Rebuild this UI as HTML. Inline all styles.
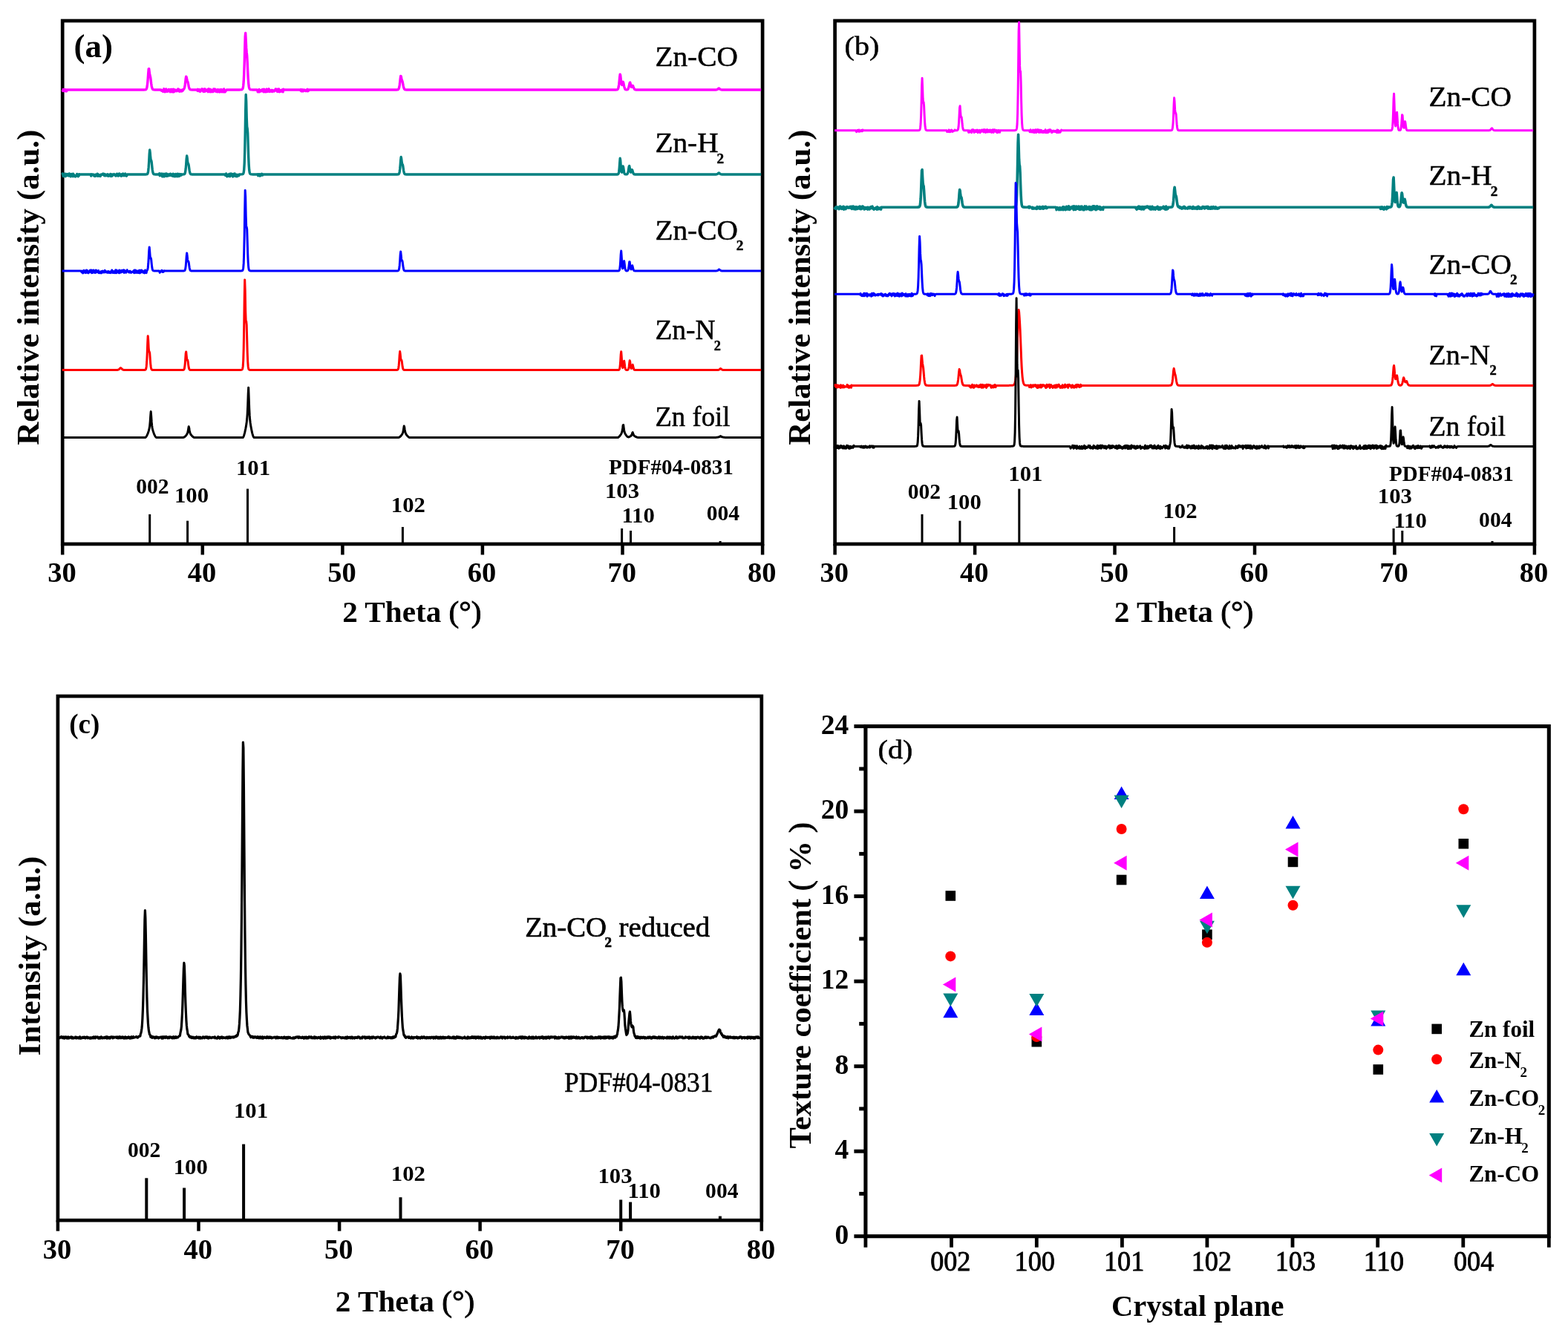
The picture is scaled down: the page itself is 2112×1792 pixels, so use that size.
<!DOCTYPE html>
<html lang="en">
<head>
<meta charset="utf-8">
<title>XRD patterns and texture coefficients</title>
<style>
html,body{margin:0;padding:0;background:#fff;}
body{width:2112px;height:1792px;overflow:hidden;}
svg{display:block;font-family:'Liberation Serif', 'DejaVu Serif', serif;}
svg text{fill:#000;}
</style>
</head>
<body>
<svg width="2112" height="1792" viewBox="0 0 2112 1792" font-family="'Liberation Serif', 'DejaVu Serif', serif">
<rect x="0" y="0" width="2112" height="1792" fill="#ffffff"/>
<rect x="84.2" y="28.0" width="942.9" height="705.0" fill="none" stroke="#000" stroke-width="4.7"/>
<line x1="84.2" y1="733.0" x2="84.2" y2="747.5" stroke="#000" stroke-width="4.5"/>
<line x1="272.8" y1="733.0" x2="272.8" y2="747.5" stroke="#000" stroke-width="4.5"/>
<line x1="461.4" y1="733.0" x2="461.4" y2="747.5" stroke="#000" stroke-width="4.5"/>
<line x1="649.9" y1="733.0" x2="649.9" y2="747.5" stroke="#000" stroke-width="4.5"/>
<line x1="838.5" y1="733.0" x2="838.5" y2="747.5" stroke="#000" stroke-width="4.5"/>
<line x1="1027.1" y1="733.0" x2="1027.1" y2="747.5" stroke="#000" stroke-width="4.5"/>
<polyline points="83.7,121 84.2,120.9 84.7,122.5 85.2,122 85.7,120.5 86.2,121.2 86.7,122.7 87.2,122.5 87.7,121.9 88.2,120.8 88.7,122.8 89.2,121.1 89.7,122.9 90.2,121 194.2,121 194.7,120.9 195.7,120.9 196.2,120.8 196.7,120.5 197.2,119.9 197.7,118.6 198.2,116.1 198.7,112.1 199.2,106.2 199.7,98.9 200.2,92.9 200.7,92.7 201.2,96.8 201.7,100.4 202.2,102.3 202.7,104.3 203.2,108.1 203.7,112.4 204.2,115.8 204.7,118.1 205.2,119.5 205.7,120.3 206.2,120.7 206.7,120.8 207.2,120.9 207.7,120.9 208.2,121 216.2,121 216.7,121.6 217.2,121.1 217.7,122.3 218.2,121.7 218.7,121.7 219.2,121.9 219.7,123.5 220.2,122.9 220.7,119.8 221.2,121.4 221.7,123.2 222.2,123.8 222.7,123.5 223.2,121.9 223.7,119.9 224.2,122.5 224.7,121.1 225.2,123.4 225.7,121.5 226.2,123.1 226.7,122.1 227.2,120.4 227.7,122.6 228.2,122.5 228.7,121.1 229.2,123.9 229.7,122.2 230.2,120.4 230.7,123.3 231.2,123.6 231.7,120.4 232.2,122.7 232.7,121.8 233.2,123.9 233.7,120.1 234.2,123.7 234.7,123.4 235.2,122.7 235.7,120.9 236.2,122.7 236.7,122.5 237.2,122.1 237.7,122.6 238.2,122.8 238.7,121.1 239.2,121.5 239.7,120 240.2,120 240.7,120.7 241.2,123 241.7,121 242.2,123.3 242.7,121.3 243.2,122 243.7,121.5 244.2,121.5 244.7,123.1 245.2,121.9 245.7,121 246.2,122.2 246.7,120.8 247.2,120.6 247.7,120.1 248.2,119.1 248.7,117.4 249.2,114.5 249.7,110.5 250.2,105.9 250.7,103.1 251.2,104.1 251.7,106.7 252.2,108.7 252.7,109.7 253.2,111.2 253.7,113.8 254.2,116.4 254.7,118.3 255.2,119.5 255.7,120.3 256.2,120.6 256.7,120.8 257.2,120.9 257.7,120.9 258.2,121 265.2,121 265.7,120.9 266.2,122.5 266.7,120.3 267.2,121.1 267.7,121.4 268.2,121.5 268.7,123 269.2,120.7 269.7,123.4 270.2,121.7 270.7,122.2 271.2,122 271.7,121.2 272.2,119.8 272.7,120.6 273.2,120.6 273.7,123.2 274.2,121.8 274.7,123.6 275.2,120 275.7,122.7 276.2,120 276.7,123.1 277.2,122.1 277.7,121.6 278.2,122.3 278.7,121.3 279.2,121.9 279.7,120.6 280.2,123.7 280.7,121.6 281.2,119.8 281.7,122 282.2,120.2 282.7,123.8 283.2,123.6 283.7,120.4 284.2,121.7 284.7,121.3 285.2,123.7 285.7,123.3 286.2,123.5 286.7,122 287.2,123.6 287.7,119.9 288.2,121.4 288.7,121.3 289.2,120.9 289.7,120.1 290.2,122 290.7,123.3 291.2,122.7 291.7,121.2 292.2,123.7 292.7,123.8 293.2,120.7 293.7,123.5 294.2,123 294.7,120.9 295.2,121.1 295.7,124 296.2,121.3 296.7,121.7 297.2,120.9 297.7,120.5 298.2,123.7 298.7,121.8 299.2,121.3 299.7,121.1 300.2,123.9 300.7,122.8 301.2,121.9 301.7,119.9 302.2,123.9 302.7,121.6 303.2,123.9 303.7,123.1 304.2,121.8 304.7,121.9 305.2,121 322.7,121 323.2,120.9 324.7,120.9 325.2,120.8 325.7,120.7 326.2,120.4 326.7,119.9 327.2,118.6 327.7,115.7 328.2,110 328.7,100.4 329.2,85.9 329.7,67 330.2,49.2 330.7,44.5 331.2,53.8 331.7,64.4 332.2,70.4 332.7,74.9 333.2,83.9 333.7,95.5 334.2,105.3 334.7,112.1 335.2,116.3 335.7,118.7 336.2,119.9 336.7,120.5 337.2,120.7 337.7,120.8 338.2,120.9 339.7,120.9 340.2,121 346.2,121 346.7,121.2 347.2,123.9 347.7,123 348.2,123.8 348.7,121.9 349.2,120.6 349.7,123.7 350.2,122 350.7,122.7 351.2,121.7 351.7,121.7 352.2,122.7 352.7,121.2 353.2,120.6 353.7,120.4 354.2,121.5 354.7,123.4 355.2,123.8 355.7,120.1 356.2,123.5 356.7,121.3 357.2,123.8 357.7,123.7 358.2,123.7 358.7,120.6 359.2,120 359.7,123.5 360.2,123.1 360.7,122.3 361.2,123.1 361.7,121.8 362.2,119.8 362.7,122.6 363.2,123.6 363.7,122.2 364.2,121.8 364.7,122.9 365.2,122.7 365.7,122.1 366.2,121.4 366.7,123.5 367.2,122.2 367.7,121.7 368.2,122.6 368.7,122.9 369.2,123.1 369.7,121.7 370.2,122.4 370.7,122.2 371.2,119.9 371.7,121.8 372.2,121.1 372.7,120.4 373.2,120.8 373.7,123.6 374.2,120.2 374.7,122.1 375.2,123.2 375.7,120 376.2,123.9 376.7,121.5 377.2,121.7 377.7,123.3 378.2,123 378.7,122 379.2,121.5 379.7,121 380.2,123.4 380.7,120.7 381.2,123.9 381.7,120.1 382.2,121 404.7,121 405.2,122.3 405.7,120.6 406.2,122.9 406.7,122.6 407.2,121.3 407.7,120.9 408.2,122.9 408.7,122.2 409.2,121.2 409.7,121.5 410.2,121 410.7,121.9 411.2,122.3 411.7,122.7 412.2,121.6 412.7,121.5 413.2,121.5 413.7,120.4 414.2,122.9 414.7,120.6 415.2,122.5 415.7,121.8 416.2,121 534.2,121 534.7,120.9 535.2,120.9 535.7,120.8 536.2,120.6 536.7,120.2 537.2,119.3 537.7,117.6 538.2,114.8 538.7,110.8 539.2,106 539.7,102.4 540.2,102.7 540.7,105.4 541.2,107.7 541.7,108.8 542.2,110.3 542.7,112.9 543.2,115.6 543.7,117.8 544.2,119.2 544.7,120.1 545.2,120.6 545.7,120.8 546.2,120.9 546.7,120.9 547.2,121 829.7,121 830.2,120.9 830.7,120.9 831.2,120.8 831.7,120.6 832.2,120.1 832.7,119 833.2,117 833.7,113.8 834.2,109.2 834.7,103.7 835.2,100.1 835.7,101.4 836.2,106.2 836.7,110.8 837.2,113.6 837.7,114.5 838.2,113.6 838.7,111.6 839.2,110.3 839.7,111.4 840.2,114 840.7,116.6 841.2,118.4 841.7,119.7 842.2,120.3 842.7,120.7 843.2,120.8 843.7,120.9 844.2,120.9 844.7,120.8 845.2,120.7 845.7,120.3 846.2,119.5 846.7,118.2 847.2,116.3 847.7,113.8 848.2,111.5 848.7,111.1 849.2,112.9 849.7,115.2 850.2,116.7 850.7,117.3 851.2,117 851.7,116 852.2,115.3 852.7,115.9 853.2,117.3 853.7,118.6 854.2,119.6 854.7,120.3 855.2,120.7 855.7,120.8 856.2,120.9 856.7,121 964.2,121 964.7,120.9 965.2,120.9 965.7,120.7 966.2,120.5 966.7,120.2 967.2,119.8 967.7,119.3 968.2,119 968.7,119.2 969.2,119.6 969.7,120.1 970.2,120.5 970.7,120.7 971.2,120.8 971.7,120.9 972.2,121 1025.2,121" fill="none" stroke="#ff00ff" stroke-width="3.4" stroke-linejoin="round"/>
<polyline points="83.7,235 84.2,233.9 84.7,235.2 85.2,237.5 85.7,237 86.2,236.8 86.7,236.7 87.2,236.3 87.7,234.1 88.2,237.8 88.7,236.3 89.2,235.1 89.7,236.4 90.2,234.5 90.7,236.6 91.2,235.7 91.7,236 92.2,234.4 92.7,237 93.2,233.9 93.7,234.1 94.2,234.1 94.7,234.6 95.2,237.9 95.7,237.3 96.2,236.4 96.7,234.4 97.2,234.4 97.7,234.6 98.2,237.7 98.7,234.3 99.2,237.2 99.7,235.7 100.2,237.1 100.7,237.7 101.2,237.7 101.7,237.9 102.2,236.5 102.7,237 103.2,235.9 103.7,234.4 104.2,236.9 104.7,237.5 105.2,237.7 105.7,237.2 106.2,237 106.7,234.7 107.2,235 121.7,235 122.2,235.3 122.7,237.1 123.2,234.8 123.7,236.1 124.2,235.1 124.7,235.4 125.2,234.9 125.7,235.1 126.2,235.1 126.7,237 127.2,235.5 127.7,236 128.2,237.5 128.7,235.1 129.2,236.5 129.7,235.3 130.2,235.1 130.7,236.9 131.2,234.1 131.7,237.2 132.2,236.2 132.7,236.7 133.2,235.3 133.7,237.2 134.2,236.5 134.7,236.3 135.2,237.4 135.7,236.5 136.2,235 136.7,235.4 137.2,235.1 137.7,235.2 138.2,234.5 138.7,234.1 139.2,235.6 139.7,235.6 140.2,234.4 140.7,236.8 141.2,236.1 141.7,235 142.2,236 142.7,236.8 143.2,235.2 143.7,235.6 144.2,236.3 144.7,235.8 145.2,234.8 145.7,237.4 146.2,236.1 146.7,236.5 147.2,236 147.7,235.5 148.2,237 148.7,234.5 149.2,236.5 149.7,237.5 150.2,235 150.7,235.3 151.2,237.1 151.7,235 152.2,236 152.7,235.5 153.2,235.2 153.7,234.6 154.2,234.9 154.7,235.5 155.2,236 155.7,236.9 156.2,235.3 156.7,234.9 157.2,234.4 157.7,236.7 158.2,234.3 158.7,236.8 159.2,235.9 159.7,237 160.2,236.3 160.7,234 161.2,234.1 161.7,235.7 162.2,236.2 162.7,236.1 163.2,237.3 163.7,237 164.2,234.6 164.7,235.4 165.2,235.2 165.7,234.1 166.2,236.6 166.7,235.7 167.2,236.7 167.7,236.1 168.2,235.3 168.7,234.1 169.2,235.2 169.7,236.8 170.2,237.2 170.7,236.8 171.2,235 196.2,235 196.7,234.9 197.2,234.9 197.7,234.8 198.2,234.7 198.7,234.2 199.2,232.9 199.7,230.2 200.2,225.2 200.7,217.3 201.2,207.7 201.7,202 202.2,205.7 202.7,212.1 203.2,215.5 203.7,216.2 204.2,218.4 204.7,223.4 205.2,228.2 205.7,231.4 206.2,233.3 206.7,234.3 207.2,234.7 207.7,234.9 208.7,234.9 209.2,235 214.2,235 214.7,233.8 215.2,236.7 215.7,236.3 216.2,234.3 216.7,235.5 217.2,236.4 217.7,234.1 218.2,237.1 218.7,237.9 219.2,237.2 219.7,234.1 220.2,235.7 220.7,236.2 221.2,237.9 221.7,235 222.2,234.1 222.7,234.2 223.2,235 223.7,237.2 224.2,233.9 224.7,234.9 225.2,237.3 225.7,237.2 226.2,234.8 226.7,235.4 227.2,236.3 227.7,236.7 228.2,234.8 228.7,235.2 229.2,234.4 229.7,234.2 230.2,236.5 230.7,236 231.2,236.5 231.7,234.9 232.2,234.8 232.7,237.4 233.2,234.2 233.7,237.6 234.2,235.5 234.7,236.4 235.2,235 235.7,237.9 236.2,236.6 236.7,234.5 237.2,235.9 237.7,236.5 238.2,237.7 238.7,237.5 239.2,234.2 239.7,237 240.2,237.5 240.7,236.9 241.2,234.4 241.7,237.4 242.2,235.9 242.7,236.4 243.2,234.7 243.7,234.9 244.2,236.1 244.7,235 246.2,235 246.7,234.9 247.7,234.9 248.2,234.7 248.7,234.3 249.2,233.4 249.7,231.2 250.2,227.3 250.7,221.3 251.2,213.9 251.7,210 252.2,213 252.7,217.9 253.2,220.3 253.7,220.8 254.2,222.6 254.7,226.4 255.2,230 255.7,232.4 256.2,233.8 256.7,234.5 257.2,234.8 257.7,234.9 258.2,234.9 258.7,235 302.7,235 303.2,236 303.7,236.4 304.2,236.3 304.7,233.9 305.2,236.3 305.7,237.8 306.2,235.3 306.7,235.6 307.2,236.1 307.7,237.4 308.2,237.4 308.7,234.5 309.2,234.6 309.7,237.8 310.2,234.2 310.7,234.1 311.2,234 311.7,234.1 312.2,235.9 312.7,237 313.2,236.2 313.7,237.9 314.2,234.4 314.7,234.8 315.2,235.4 315.7,236 316.2,233.9 316.7,237.3 317.2,236.6 317.7,237.5 318.2,235.8 318.7,235.4 319.2,237.8 319.7,235.4 320.2,235.7 321.2,235.7 321.7,236.8 322.2,235 323.7,235 324.2,234.9 325.7,234.9 326.2,234.8 326.7,234.7 327.2,234.5 327.7,234 328.2,232.5 328.7,228.8 329.2,220.6 329.7,205.1 330.2,180.5 330.7,148.9 331.2,127.5 331.7,136.7 332.2,158.1 332.7,170.5 333.2,173.2 333.7,179.3 334.2,195.2 334.7,211.2 335.2,222.4 335.7,229.1 336.2,232.5 336.7,233.9 337.2,234.5 337.7,234.7 338.2,234.8 338.7,234.9 339.7,234.9 340.2,235 346.2,235 346.7,234.7 347.2,235.1 347.7,236.7 348.2,236.6 348.7,234.6 349.2,234.7 349.7,236.2 350.2,237 350.7,235.9 351.2,234.7 351.7,236.2 352.2,234.6 352.7,234.2 353.2,235.9 353.7,236 354.2,235 535.2,235 535.7,234.9 536.2,234.9 536.7,234.8 537.2,234.4 537.7,233.5 538.2,231.6 538.7,228 539.2,222.4 539.7,215.6 540.2,211.5 540.7,214.1 541.2,218.7 541.7,221.1 542.2,221.6 542.7,223.2 543.2,226.8 543.7,230.1 544.2,232.5 544.7,233.8 545.2,234.5 545.7,234.8 546.2,234.9 546.7,234.9 547.2,235 831.2,235 831.7,234.9 832.2,234.8 832.7,234.5 833.2,233.6 833.7,231.3 834.2,226.6 834.7,219.5 835.2,213.3 835.7,216 836.2,223.5 836.7,229.2 837.2,232 837.7,232.2 838.2,230.3 838.7,226.8 839.2,224 839.7,225.8 840.2,229.6 840.7,232.4 841.2,234 841.7,234.6 842.2,234.9 843.7,234.9 844.2,234.8 844.7,234.6 845.2,234.1 845.7,232.9 846.2,230.9 846.7,227.9 847.2,224.6 847.7,223.6 848.2,226.1 848.7,229.3 849.2,231.3 849.7,232.1 850.2,231.5 850.7,230 851.2,228.7 851.7,229.2 852.2,231 852.7,232.7 853.2,233.8 853.7,234.5 854.2,234.8 854.7,234.9 855.2,235 964.2,235 964.7,234.9 965.2,234.9 965.7,234.7 966.2,234.5 966.7,234.2 967.2,233.8 967.7,233.3 968.2,233 968.7,233.2 969.2,233.6 969.7,234.1 970.2,234.5 970.7,234.7 971.2,234.8 971.7,234.9 972.2,235 1025.2,235" fill="none" stroke="#008080" stroke-width="3.4" stroke-linejoin="round"/>
<polyline points="83.7,365 108.7,365 109.2,365.7 109.7,366.1 110.2,366.9 110.7,365 111.2,365.8 111.7,368 112.2,367.5 112.7,366.9 113.2,364.2 113.7,366.6 114.2,367 114.7,367.3 115.2,365.9 115.7,367.6 116.2,364.1 116.7,364.1 117.2,364.5 117.7,364.5 118.2,367.6 118.7,365.4 119.2,367.9 119.7,366.9 120.2,366.5 120.7,366.1 121.2,364.3 121.7,364.2 122.2,364 122.7,367 123.2,364 123.7,367.7 124.2,367.1 124.7,367.5 125.2,365.9 125.7,364 126.2,364.9 126.7,366.2 127.2,364.6 127.7,367.6 128.2,366.8 128.7,367.2 129.2,363.9 129.7,364.4 130.2,365.9 130.7,366.8 131.2,365.6 131.7,366.8 132.2,364.9 132.7,364.6 133.2,367.7 133.7,366.4 134.2,366.9 134.7,366.7 135.2,367.8 135.7,366.3 136.2,365.7 136.7,367.9 137.2,366.6 137.7,366.2 138.2,365.1 138.7,366.9 139.2,366.9 139.7,367 140.2,367.1 140.7,365.1 141.2,364.2 141.7,365.8 142.2,366.8 142.7,366.1 143.2,366.1 143.7,365.9 144.2,367.3 144.7,366.7 145.2,365.9 145.7,367.4 146.2,365.6 146.7,367.1 147.2,366 147.7,367.5 148.2,367.6 148.7,366 149.2,367.7 149.7,365.7 150.2,366.6 150.7,364 151.2,365.6 151.7,367.4 152.2,367.4 152.7,365.4 153.2,367.4 153.7,366 154.2,366.3 154.7,367.8 155.2,365 155.7,363.9 156.2,364.5 156.7,367.8 157.2,364.1 157.7,367 158.2,365.9 158.7,365.7 159.2,366.8 159.7,367.4 160.2,367.7 160.7,363.9 161.2,367.7 161.7,365 162.2,365.5 162.7,367 163.2,364.5 163.7,366.8 164.2,364.7 164.7,364.4 165.2,366.1 165.7,364.4 166.2,364.8 166.7,363.9 167.2,367.5 167.7,364.2 168.2,365.1 168.7,365.8 169.2,366.3 169.7,367.3 170.2,365.2 170.7,365.4 171.2,363.8 171.7,365.3 172.2,365.9 172.7,366.1 173.2,366.8 173.7,365.6 174.2,365.4 174.7,367.1 175.2,365.2 175.7,366.1 176.2,367.3 176.7,367.4 177.2,366.3 177.7,366.5 178.2,366.3 178.7,366.4 179.2,366.6 179.7,365.2 180.2,364.5 180.7,367.8 181.2,363.9 181.7,365.8 182.2,364.9 182.7,364.2 183.2,367.4 183.7,367.2 184.2,365.3 184.7,365 185.2,367.3 185.7,365.3 186.2,367.6 186.7,365 187.2,364.9 187.7,364.2 188.2,367.9 188.7,367.4 189.2,367.3 189.7,367.1 190.2,364.1 190.7,365.2 191.2,364.3 191.7,365.7 192.2,365.7 192.7,367.3 193.2,366.1 193.7,366 194.2,365.2 194.7,367.9 195.2,367.2 195.7,364.1 196.2,367 196.7,366.4 197.2,367.6 197.7,364.8 198.2,364.4 198.7,363.4 199.2,361 199.7,356 200.2,347.9 200.7,337.8 201.2,333 201.7,338.6 202.2,345.4 202.7,348 203.2,347.7 203.7,349.9 204.2,355.2 204.7,359.6 205.2,362.5 205.7,364 206.2,364.6 206.7,364.8 207.2,364.9 207.7,364.9 208.2,365 214.2,365 214.7,365.2 215.2,367.3 215.7,366.1 216.2,365.5 216.7,365.5 217.2,365.8 217.7,364.3 218.2,365.7 218.7,364.6 219.2,366.5 219.7,365.5 220.2,366.2 220.7,365.4 221.2,364.7 221.7,364.9 222.2,365 246.7,365 247.2,364.9 247.7,364.9 248.2,364.8 248.7,364.6 249.2,363.9 249.7,362.2 250.2,358.6 250.7,352.8 251.2,345.2 251.7,341 252.2,344.7 252.7,350 253.2,352.2 253.7,352 254.2,353.5 254.7,357.3 255.2,360.8 255.7,363 256.2,364.2 256.7,364.7 257.2,364.9 257.7,364.9 258.2,365 323.2,365 323.7,364.9 325.2,364.9 325.7,364.8 326.2,364.7 326.7,364.4 327.2,363.5 327.7,361.2 328.2,354.9 328.7,341.3 329.2,317.5 329.7,283.7 330.2,256.4 330.7,265.1 331.2,290.6 331.7,305 332.2,306 332.7,308.7 333.2,324.6 333.7,341.7 334.2,353.4 334.7,360 335.2,363.1 335.7,364.2 336.2,364.6 336.7,364.8 337.2,364.9 338.7,364.9 339.2,365 534.7,365 535.2,364.9 535.7,364.9 536.2,364.8 536.7,364.5 537.2,363.7 537.7,361.7 538.2,357.7 538.7,351.1 539.2,342.9 539.7,339 540.2,343.5 540.7,349 541.2,351.2 541.7,351 542.2,352.8 542.7,357 543.2,360.6 543.7,362.9 544.2,364.1 544.7,364.7 545.2,364.9 545.7,364.9 546.2,365 832.2,365 832.7,364.9 833.2,364.9 833.7,364.7 834.2,364.1 834.7,362.5 835.2,358.8 835.7,351.9 836.2,342.6 836.7,338.1 837.2,345 837.7,353.9 838.2,359.6 838.7,361.8 839.2,361 839.7,357.9 840.2,353.3 840.7,351.6 841.2,355.4 841.7,359.8 842.2,362.7 842.7,364.1 843.2,364.7 843.7,364.9 844.7,364.9 845.2,364.8 845.7,364.4 846.2,363.3 846.7,360.9 847.2,357.1 847.7,352.8 848.2,352.8 848.7,357 849.2,360.8 849.7,362.7 850.2,363 850.7,361.7 851.2,359.4 851.7,357.8 852.2,359.2 852.7,361.7 853.2,363.4 853.7,364.4 854.2,364.8 854.7,364.9 855.2,365 964.7,365 965.2,364.9 965.7,364.8 966.2,364.7 966.7,364.5 967.2,364.1 967.7,363.6 968.2,363.2 968.7,363 969.2,363.3 969.7,363.8 970.2,364.2 970.7,364.5 971.2,364.7 971.7,364.9 972.2,364.9 972.7,365 1025.2,365" fill="none" stroke="#0000ff" stroke-width="3.0" stroke-linejoin="round"/>
<polyline points="83.7,498.6 157.2,498.6 157.7,498.5 158.2,498.5 158.7,498.4 159.2,498.2 159.7,498 160.2,497.7 160.7,497.2 161.2,496.7 161.7,496.1 162.2,495.7 162.7,495.7 163.2,496.1 163.7,496.6 164.2,497.2 164.7,497.6 165.2,498 165.7,498.2 166.2,498.4 166.7,498.5 167.2,498.5 167.7,498.6 193.7,498.6 194.2,498.5 194.7,498.5 195.2,498.4 195.7,498.3 196.2,497.9 196.7,496.8 197.2,493.9 197.7,487.7 198.2,477.1 198.7,462.7 199.2,452.7 199.7,458.1 200.2,468.6 200.7,473.8 201.2,473.8 201.7,475.6 202.2,482.7 202.7,489.6 203.2,494.2 203.7,496.7 204.2,497.9 204.7,498.3 205.2,498.5 206.2,498.5 206.7,498.6 245.7,498.6 246.2,498.5 246.7,498.5 247.2,498.4 247.7,498 248.2,497.1 248.7,494.9 249.2,490.6 249.7,483.8 250.2,476.1 250.7,473.9 251.2,479.1 251.7,483.9 252.2,485.3 252.7,485.1 253.2,487.5 253.7,491.6 254.2,494.9 254.7,496.9 255.2,497.9 255.7,498.3 256.2,498.5 256.7,498.5 257.2,498.6 322.7,498.6 323.2,498.5 324.2,498.5 324.7,498.4 325.2,498.3 325.7,498.2 326.2,497.8 326.7,496.8 327.2,493.7 327.7,486 328.2,469.6 328.7,441.5 329.2,403.3 329.7,376.9 330.2,391.4 330.7,419.2 331.2,432.9 331.7,432.9 332.2,437.8 332.7,456.5 333.2,474.9 333.7,487 334.2,493.7 334.7,496.7 335.2,497.8 335.7,498.2 336.2,498.4 336.7,498.5 338.2,498.5 338.7,498.6 533.7,498.6 534.2,498.5 534.7,498.5 535.2,498.4 535.7,498.2 536.2,497.5 536.7,495.8 537.2,492.2 537.7,486.1 538.2,478.2 538.7,473.6 539.2,477.3 539.7,482.8 540.2,485.2 540.7,485.1 541.2,486.5 541.7,490.4 542.2,494.1 542.7,496.4 543.2,497.7 543.7,498.2 544.2,498.5 544.7,498.5 545.2,498.6 832.2,498.6 832.7,498.5 833.2,498.5 833.7,498.3 834.2,497.8 834.7,496.3 835.2,492.8 835.7,486.4 836.2,477.8 836.7,473.7 837.2,480.1 837.7,488.3 838.2,493.6 838.7,495.6 839.2,494.9 839.7,492 840.2,487.8 840.7,486.2 841.2,489.7 841.7,493.8 842.2,496.4 842.7,497.8 843.2,498.3 843.7,498.5 845.2,498.5 845.7,498.3 846.2,497.8 846.7,496.4 847.2,493.7 847.7,489.5 848.2,485.8 848.7,487.3 849.2,491.7 849.7,495 850.2,496.5 850.7,496.4 851.2,494.8 851.7,492.4 852.2,491.4 852.7,493.4 853.2,495.8 853.7,497.3 854.2,498.1 854.7,498.4 855.2,498.5 855.7,498.6 966.7,498.6 967.2,498.5 967.7,498.4 968.2,498.3 968.7,498 969.2,497.6 969.7,497.1 970.2,496.7 970.7,496.6 971.2,497 971.7,497.5 972.2,497.9 972.7,498.2 973.2,498.4 973.7,498.5 974.2,498.5 974.7,498.6 1025.2,498.6" fill="none" stroke="#ff0000" stroke-width="3.0" stroke-linejoin="round"/>
<polyline points="83.7,589.5 195.7,589.5 196.2,589.2 196.7,588.7 197.2,588 197.7,587.2 198.2,586.2 198.7,585 199.2,583.8 199.7,582.4 200.2,580.9 200.7,579.2 201.2,576.9 201.7,573.6 202.2,568.2 202.7,560.5 203.2,554.5 203.7,560.7 204.2,568.4 204.7,573.7 205.2,577 205.7,579.2 206.2,580.9 206.7,582.4 207.2,583.8 207.7,585.1 208.2,586.2 208.7,587.2 209.2,588 209.7,588.7 210.2,589.2 210.7,589.5 246.7,589.5 247.2,589.4 247.7,589.2 248.2,588.9 248.7,588.6 249.2,588.2 249.7,587.7 250.2,587.2 250.7,586.6 251.2,585.9 251.7,585.2 252.2,584.3 252.7,583 253.2,580.9 253.7,577.8 254.2,574.8 254.7,576.4 255.2,579.8 255.7,582.3 256.2,583.9 256.7,584.9 257.2,585.7 257.7,586.3 258.2,586.9 258.7,587.5 259.2,588 259.7,588.4 260.2,588.8 260.7,589.1 261.2,589.4 261.7,589.5 327.2,589.5 327.7,588.9 328.2,587.8 328.7,586.4 329.2,584.7 329.7,582.8 330.2,580.5 330.7,578.1 331.2,575.4 331.7,572.4 332.2,569 332.7,564.5 333.2,557.6 333.7,546.6 334.2,531.2 334.7,522.2 335.2,535.5 335.7,549.9 336.2,559.7 336.7,565.8 337.2,569.9 337.7,573.2 338.2,576.1 338.7,578.7 339.2,581.1 339.7,583.3 340.2,585.2 340.7,586.8 341.2,588.2 341.7,589.1 342.2,589.5 536.7,589.5 537.2,589.4 537.7,589.2 538.2,588.9 538.7,588.5 539.2,588.1 539.7,587.6 540.2,587 540.7,586.4 541.2,585.8 541.7,585 542.2,584.1 542.7,582.7 543.2,580.6 543.7,577.3 544.2,573.9 544.7,575.3 545.2,578.9 545.7,581.7 546.2,583.4 546.7,584.5 547.2,585.4 547.7,586.1 548.2,586.7 548.7,587.3 549.2,587.8 549.7,588.3 550.2,588.7 550.7,589.1 551.2,589.3 551.7,589.5 832.2,589.5 832.7,589.3 833.2,588.9 833.7,588.5 834.2,588.1 834.7,587.5 835.2,586.9 835.7,586.2 836.2,585.5 836.7,584.7 837.2,583.7 837.7,582.3 838.2,580.2 838.7,576.8 839.2,572.7 839.7,572.6 840.2,576.6 840.7,580 841.2,582.3 841.7,583.6 842.2,584.6 842.7,585.5 843.2,586.2 843.7,586.9 844.2,587.5 844.7,588 845.2,588.5 845.7,588.7 846.2,588.9 846.7,588.9 847.2,588.8 847.7,588.6 848.2,588.3 848.7,588 849.2,587.7 849.7,587.4 850.2,586.9 850.7,586.1 851.2,585 851.7,583.4 852.2,582.6 852.7,584.1 853.2,585.5 853.7,586.5 854.2,587.1 854.7,587.5 855.2,587.8 855.7,588.1 856.2,588.4 856.7,588.7 857.2,588.9 857.7,589.1 858.2,589.2 858.7,589.4 859.2,589.5 963.7,589.5 964.2,589.4 964.7,589.4 965.2,589.3 965.7,589.3 966.2,589.2 966.7,589.1 967.2,589.1 967.7,589 968.2,588.9 968.7,588.7 969.2,588.5 969.7,588.1 970.2,587.7 970.7,587.6 971.2,588 971.7,588.4 972.2,588.7 972.7,588.8 973.2,588.9 973.7,589 974.2,589.1 974.7,589.2 975.2,589.3 975.7,589.3 976.2,589.4 976.7,589.4 977.2,589.5 1025.2,589.5" fill="none" stroke="#000000" stroke-width="3.0" stroke-linejoin="round"/>
<line x1="201.7" y1="692.9" x2="201.7" y2="733.0" stroke="#000" stroke-width="3"/>
<line x1="252.6" y1="701.7" x2="252.6" y2="733.0" stroke="#000" stroke-width="3"/>
<line x1="333.5" y1="658.6" x2="333.5" y2="733.0" stroke="#000" stroke-width="3"/>
<line x1="542.4" y1="710.0" x2="542.4" y2="733.0" stroke="#000" stroke-width="3"/>
<line x1="837.6" y1="712.0" x2="837.6" y2="733.0" stroke="#000" stroke-width="3"/>
<line x1="849.5" y1="715.0" x2="849.5" y2="733.0" stroke="#000" stroke-width="3"/>
<line x1="970.1" y1="729.0" x2="970.1" y2="733.0" stroke="#000" stroke-width="3"/>
<text transform="translate(83.4 784.3)" font-size="38.5" font-weight="bold" text-anchor="middle">30</text>
<text transform="translate(272.0 784.3)" font-size="38.5" font-weight="bold" text-anchor="middle">40</text>
<text transform="translate(460.6 784.3)" font-size="38.5" font-weight="bold" text-anchor="middle">50</text>
<text transform="translate(649.1 784.3)" font-size="38.5" font-weight="bold" text-anchor="middle">60</text>
<text transform="translate(837.7 784.3)" font-size="38.5" font-weight="bold" text-anchor="middle">70</text>
<text transform="translate(1026.3 784.3)" font-size="38.5" font-weight="bold" text-anchor="middle">80</text>
<text transform="translate(99.5 77.3)" font-size="45" font-weight="bold" text-anchor="start">(a)</text>
<text transform="translate(882.4 88.7) scale(1.035 1)" font-size="38" text-anchor="start" stroke="#000" stroke-width="0.5">Zn-CO</text>
<text transform="translate(882.4 205.3) scale(1.035 1)" font-size="38" text-anchor="start" stroke="#000" stroke-width="0.5">Zn-H<tspan font-size="18.5" font-weight="bold" dx="-2.0" dy="14.3">2</tspan></text>
<text transform="translate(882.4 323.0) scale(1.035 1)" font-size="38" text-anchor="start" stroke="#000" stroke-width="0.5">Zn-CO<tspan font-size="18.5" font-weight="bold" dx="-2.0" dy="14.3">2</tspan></text>
<text transform="translate(882.4 457.2) scale(0.987 1)" font-size="38" text-anchor="start" stroke="#000" stroke-width="0.5">Zn-N<tspan font-size="18.5" font-weight="bold" dx="-2.0" dy="14.3">2</tspan></text>
<text transform="translate(882.4 573.5) scale(0.968 1)" font-size="38" text-anchor="start" stroke="#000" stroke-width="0.5">Zn foil</text>
<text transform="translate(820.0 638.5) scale(1.02 1)" font-size="28.5" font-weight="bold" text-anchor="start">PDF#04-0831</text>
<text transform="translate(183.2 664.5) scale(1.02 1)" font-size="29" font-weight="bold" text-anchor="start">002</text>
<text transform="translate(235.0 677.2) scale(1.06 1)" font-size="29" font-weight="bold" text-anchor="start">100</text>
<text transform="translate(318.0 640.4) scale(1.06 1)" font-size="29" font-weight="bold" text-anchor="start">101</text>
<text transform="translate(526.8 689.8) scale(1.06 1)" font-size="29" font-weight="bold" text-anchor="start">102</text>
<text transform="translate(815.0 670.8) scale(1.06 1)" font-size="29" font-weight="bold" text-anchor="start">103</text>
<text transform="translate(837.4 703.8) scale(1.06 1)" font-size="29" font-weight="bold" text-anchor="start">110</text>
<text transform="translate(951.8 701.3) scale(1.02 1)" font-size="29" font-weight="bold" text-anchor="start">004</text>
<text transform="translate(554.8 838.0) scale(1.03 1)" font-size="40" font-weight="bold" text-anchor="middle">2 Theta <tspan font-weight="normal" stroke="#000" stroke-width="0.9">(°)</tspan></text>
<text transform="translate(52.0 387.2) rotate(-90)" font-size="43" font-weight="bold" text-anchor="middle">Relative intensity (a.u.)</text>
<rect x="1124.6" y="28.0" width="942.3" height="705.0" fill="none" stroke="#000" stroke-width="4.7"/>
<line x1="1124.6" y1="733.0" x2="1124.6" y2="747.5" stroke="#000" stroke-width="4.5"/>
<line x1="1313.1" y1="733.0" x2="1313.1" y2="747.5" stroke="#000" stroke-width="4.5"/>
<line x1="1501.5" y1="733.0" x2="1501.5" y2="747.5" stroke="#000" stroke-width="4.5"/>
<line x1="1690.0" y1="733.0" x2="1690.0" y2="747.5" stroke="#000" stroke-width="4.5"/>
<line x1="1878.4" y1="733.0" x2="1878.4" y2="747.5" stroke="#000" stroke-width="4.5"/>
<line x1="2066.9" y1="733.0" x2="2066.9" y2="747.5" stroke="#000" stroke-width="4.5"/>
<polyline points="1124.1,175.8 1152.6,175.8 1153.1,176.7 1153.6,177.6 1154.1,176.8 1154.6,176.2 1155.1,175.3 1155.6,176 1156.1,175.7 1156.6,177.2 1157.1,175 1157.6,177.1 1158.1,176.1 1158.6,176.9 1159.1,176.2 1159.6,175.9 1160.1,175.4 1160.6,176.8 1161.1,176.8 1161.6,176.7 1162.1,175 1162.6,175.8 1235.6,175.8 1236.1,175.7 1237.1,175.7 1237.6,175.6 1238.1,175.5 1238.6,175.3 1239.1,174.5 1239.6,172.2 1240.1,166.7 1240.6,155.7 1241.1,137.8 1241.6,115.4 1242.1,105.3 1242.6,117.9 1243.1,132.7 1243.6,138.3 1244.1,137.7 1244.6,142.8 1245.1,154.3 1245.6,164.1 1246.1,170.3 1246.6,173.5 1247.1,174.9 1247.6,175.4 1248.1,175.6 1248.6,175.7 1249.6,175.7 1250.1,175.8 1275.1,175.8 1275.6,177.5 1276.1,176.4 1276.6,176.4 1277.1,177.3 1277.6,177.5 1278.1,175 1278.6,175.8 1279.1,177.6 1279.6,177.8 1280.1,175.9 1280.6,177.4 1281.1,176 1281.6,175 1282.1,176 1282.6,176 1283.1,177.4 1283.6,176.9 1284.1,176.2 1284.6,176.1 1285.1,176 1285.6,176.2 1286.1,175 1286.6,175.5 1287.1,175.8 1287.6,175.8 1288.1,175.7 1289.1,175.7 1289.6,175.5 1290.1,175 1290.6,173.7 1291.1,170.5 1291.6,164.5 1292.1,155.2 1292.6,144.9 1293.1,142.8 1293.6,150.1 1294.1,156.3 1294.6,157.9 1295.1,157.7 1295.6,161.2 1296.1,166.8 1296.6,171 1297.1,173.6 1297.6,174.9 1298.1,175.5 1298.6,175.7 1299.1,175.7 1299.6,175.8 1303.6,175.8 1304.1,176.4 1304.6,178.4 1305.1,175.7 1305.6,176.4 1306.1,178.1 1306.6,176.7 1307.1,176.1 1307.6,176.5 1308.1,176.9 1308.6,178.7 1309.1,175.1 1309.6,176.3 1310.1,174.7 1310.6,176.5 1311.1,174.9 1311.6,175.6 1312.1,178.4 1312.6,177.1 1313.1,175.8 1313.6,176.5 1314.1,175.5 1314.6,177.6 1315.1,176.3 1315.6,176 1316.1,175.1 1316.6,177.6 1317.1,178.6 1317.6,175.8 1318.1,177.1 1318.6,176.3 1319.1,177.5 1319.6,175.4 1320.1,178.7 1320.6,177.9 1321.1,176.2 1321.6,175.8 1322.1,175 1322.6,175.9 1323.1,177.2 1323.6,175.4 1324.1,176 1324.6,174.9 1325.1,178 1325.6,174.8 1326.1,176.9 1326.6,174.7 1327.1,175.3 1327.6,178.4 1328.1,177.7 1328.6,177.5 1329.1,176 1329.6,174.6 1330.1,178 1330.6,178 1331.1,175.3 1331.6,175.7 1332.1,175.9 1332.6,177.2 1333.1,177.9 1333.6,175.1 1334.1,176.6 1334.6,176.7 1335.1,176.4 1335.6,178.5 1336.1,175.3 1336.6,176.8 1337.1,176.4 1337.6,174.8 1338.1,178.4 1338.6,177.5 1339.1,176.2 1339.6,174.8 1340.1,174.9 1340.6,176.6 1341.1,177.2 1341.6,176.4 1342.1,177.7 1342.6,175.4 1343.1,178.7 1343.6,176 1344.1,178.4 1344.6,177.9 1345.1,175.4 1345.6,175.9 1346.1,177.2 1346.6,178.3 1347.1,175.8 1364.6,175.8 1365.1,175.7 1366.6,175.7 1367.1,175.6 1367.6,175.6 1368.1,175.4 1368.6,175.2 1369.1,174.5 1369.6,172.5 1370.1,167 1370.6,153.8 1371.1,128.4 1371.6,88.2 1372.1,42.3 1372.6,29.9 1373.1,60.6 1373.6,88.9 1374.1,97.3 1374.6,96.2 1375.1,110.3 1375.6,134.7 1376.1,154 1376.6,165.8 1377.1,171.8 1377.6,174.2 1378.1,175.1 1378.6,175.4 1379.1,175.6 1379.6,175.7 1381.1,175.7 1381.6,175.8 1386.1,175.8 1386.6,176.2 1387.1,177.7 1387.6,177.7 1388.1,174.8 1388.6,177.8 1389.1,177.2 1389.6,175.8 1390.1,177.9 1390.6,176.6 1391.1,177.9 1391.6,175.1 1392.1,175.3 1392.6,178.5 1393.1,178.6 1393.6,176.2 1394.1,175 1394.6,176.9 1395.1,174.7 1395.6,178.6 1396.1,177.8 1396.6,174.9 1397.1,177.7 1397.6,175.5 1398.1,174.6 1398.6,175.2 1399.1,175.4 1399.6,178.4 1400.1,176 1400.6,175.1 1401.1,177.3 1401.6,178.2 1402.1,178.2 1402.6,175.4 1403.1,176.2 1403.6,177.3 1404.1,178.3 1404.6,178.6 1405.1,178.6 1405.6,176.5 1406.1,176.7 1406.6,177.7 1407.1,178.3 1407.6,176.7 1408.1,174.8 1408.6,175.5 1409.1,178.7 1409.6,177.5 1410.1,177.4 1410.6,177.6 1411.1,178.7 1411.6,175.3 1412.1,177.5 1412.6,177.9 1413.1,177.4 1413.6,174.7 1414.1,176.6 1414.6,176.2 1415.1,174.8 1415.6,177.2 1416.1,176.4 1416.6,178.6 1417.1,178.1 1417.6,176.4 1418.1,177.9 1418.6,176.9 1419.1,176.1 1419.6,176.2 1420.1,176.6 1420.6,177.4 1421.1,176.9 1421.6,177.4 1422.1,176.4 1422.6,177.7 1423.1,178.4 1423.6,178.4 1424.1,174.9 1424.6,178.5 1425.1,175.4 1425.6,175.5 1426.1,178.5 1426.6,176.5 1427.1,176.6 1427.6,178.3 1428.1,178.2 1428.6,177 1429.1,175.9 1429.6,175 1430.1,175.8 1576.1,175.8 1576.6,175.7 1577.1,175.7 1577.6,175.6 1578.1,175.5 1578.6,175.1 1579.1,174 1579.6,171.1 1580.1,165.1 1580.6,154.8 1581.1,141 1581.6,131.8 1582.1,137.5 1582.6,147.4 1583.1,152.2 1583.6,152.1 1584.1,154 1584.6,160.9 1585.1,167.4 1585.6,171.7 1586.1,174.1 1586.6,175.1 1587.1,175.5 1587.6,175.7 1588.6,175.7 1589.1,175.8 1872.1,175.8 1872.6,175.7 1873.6,175.7 1874.1,175.6 1874.6,175.2 1875.1,174.1 1875.6,170.9 1876.1,163.5 1876.6,150.3 1877.1,133 1877.6,126.3 1878.1,140 1878.6,156.2 1879.1,166.2 1879.6,169.9 1880.1,168.1 1880.6,162 1881.1,153.6 1881.6,151.2 1882.1,158.7 1882.6,166.7 1883.1,171.8 1883.6,174.3 1884.1,175.3 1884.6,175.6 1885.6,175.6 1886.1,175.4 1886.6,174.6 1887.1,172.6 1887.6,168.5 1888.1,161.7 1888.6,154.7 1889.1,155.6 1889.6,163 1890.1,169.1 1890.6,172.1 1891.1,172.2 1891.6,169.9 1892.1,166 1892.6,163.6 1893.1,166.5 1893.6,170.6 1894.1,173.4 1894.6,174.9 1895.1,175.5 1895.6,175.7 1896.1,175.7 1896.6,175.8 2005.1,175.8 2005.6,175.7 2006.1,175.7 2006.6,175.5 2007.1,175.3 2007.6,174.9 2008.1,174.3 2008.6,173.6 2009.1,172.9 2009.6,172.8 2010.1,173.4 2010.6,174.1 2011.1,174.7 2011.6,175.2 2012.1,175.5 2012.6,175.6 2013.1,175.7 2013.6,175.8 2065.1,175.8" fill="none" stroke="#ff00ff" stroke-width="3.0" stroke-linejoin="round"/>
<polyline points="1124.1,279.2 1124.6,280.6 1125.1,281.2 1125.6,279.2 1126.1,278.9 1126.6,281.3 1127.1,280.9 1127.6,279.6 1128.1,279 1128.6,279.1 1129.1,279.4 1129.6,280.2 1130.1,281.7 1130.6,279.1 1131.1,280.7 1131.6,278 1132.1,279.5 1132.6,279.6 1133.1,281.1 1133.6,281.3 1134.1,279 1134.6,280.4 1135.1,281 1135.6,280.4 1136.1,278.3 1136.6,282.1 1137.1,280.3 1137.6,281.3 1138.1,279.5 1138.6,280.3 1139.1,281.6 1139.6,279.2 1140.1,280.5 1140.6,279.9 1141.1,278.7 1141.6,279.5 1142.1,279.7 1142.6,279.3 1143.1,280.2 1143.6,279.4 1144.1,279.8 1144.6,278.6 1145.1,278.6 1145.6,279 1146.1,280.3 1146.6,278.3 1147.1,279.2 1147.6,281.5 1148.1,279.9 1148.6,279.3 1149.1,278 1149.6,280.7 1150.1,278.8 1150.6,281.7 1151.1,279.9 1151.6,280.6 1152.1,278.9 1152.6,281.9 1153.1,278.9 1153.6,278.9 1154.1,280.7 1154.6,281.3 1155.1,280.1 1155.6,281.2 1156.1,279 1156.6,280.5 1157.1,278.7 1157.6,280.9 1158.1,278.1 1158.6,281.5 1159.1,278.5 1159.6,281.6 1160.1,280.2 1160.6,281.4 1161.1,279.3 1161.6,278.1 1162.1,278.1 1162.6,278.6 1163.1,280.3 1163.6,280.3 1164.1,282 1164.6,280.8 1165.1,279.6 1165.6,281.3 1166.1,279.9 1166.6,280.2 1167.1,279.6 1167.6,280.1 1168.1,281.5 1168.6,282 1169.1,279.3 1169.6,280.5 1170.1,281.2 1170.6,279.9 1171.1,282 1171.6,280.3 1172.1,279.8 1172.6,278.9 1173.1,280.7 1173.6,279.7 1174.1,278.5 1174.6,279.9 1175.1,278.2 1175.6,279.9 1176.1,281.5 1176.6,281.2 1177.1,282.1 1177.6,281.2 1178.1,281.4 1178.6,280.7 1179.1,280.1 1179.6,279.9 1180.1,280 1180.6,281.6 1181.1,282 1181.6,278.7 1182.1,281.9 1182.6,279.6 1183.1,281.7 1183.6,281.6 1184.1,281.1 1184.6,280.4 1185.1,280.4 1185.6,281.6 1186.1,279.8 1186.6,282.1 1187.1,279.2 1235.6,279.2 1236.1,279.1 1237.1,279.1 1237.6,279 1238.1,278.8 1238.6,278.3 1239.1,277.1 1239.6,274.1 1240.1,268 1240.6,257.8 1241.1,243.4 1241.6,229.7 1242.1,228.7 1242.6,238.6 1243.1,246.7 1243.6,249.2 1244.1,250.7 1244.6,257 1245.1,265.2 1245.6,271.4 1246.1,275.4 1246.6,277.5 1247.1,278.5 1247.6,278.9 1248.1,279 1248.6,279.1 1249.1,279.1 1249.6,279.2 1287.6,279.2 1288.1,279.1 1288.6,279.1 1289.1,279 1289.6,278.7 1290.1,278 1290.6,276.3 1291.1,273.1 1291.6,267.9 1292.1,261 1292.6,255.6 1293.1,256.8 1293.6,261.6 1294.1,264.7 1294.6,265.4 1295.1,266.5 1295.6,269.8 1296.1,273.5 1296.6,276.1 1297.1,277.7 1297.6,278.6 1298.1,278.9 1298.6,279.1 1299.1,279.1 1299.6,279.2 1364.1,279.2 1364.6,279.1 1366.1,279.1 1366.6,279 1367.1,278.9 1367.6,278.6 1368.1,278 1368.6,276.2 1369.1,271.8 1369.6,262.5 1370.1,246 1370.6,221 1371.1,192.7 1371.6,181.3 1372.1,196.3 1372.6,214.2 1373.1,222.1 1373.6,223.8 1374.1,232.6 1374.6,248 1375.1,261.3 1375.6,270.1 1376.1,275.1 1376.6,277.5 1377.1,278.5 1377.6,278.8 1378.1,279 1378.6,279.1 1380.1,279.1 1380.6,279.2 1384.6,279.2 1385.1,279.1 1385.6,278.4 1386.1,280 1386.6,279.9 1387.1,278.4 1387.6,279 1388.1,279.3 1388.6,279.2 1389.1,279.6 1389.6,279.9 1390.1,279.6 1390.6,281.1 1391.1,279.4 1391.6,280.4 1392.1,280.4 1392.6,281 1393.1,280.6 1393.6,280.6 1394.1,280.1 1394.6,280.8 1395.1,281.2 1395.6,281.1 1396.1,281.3 1396.6,280.1 1397.1,278.7 1397.6,281 1398.1,279.3 1398.6,279.4 1399.1,279.2 1399.6,279.4 1400.1,278.7 1400.6,281.3 1401.1,281.3 1401.6,279 1402.1,280.2 1402.6,280.9 1403.1,280.4 1403.6,279.7 1404.1,278.7 1404.6,278.3 1405.1,281.3 1405.6,278.9 1406.1,280.5 1406.6,279.2 1407.1,280.3 1407.6,278.5 1408.1,279.9 1408.6,278.4 1409.1,280.3 1409.6,280.6 1410.1,280 1410.6,280 1411.1,279.2 1422.1,279.2 1422.6,279.7 1423.1,282.6 1423.6,280.1 1424.1,279.6 1424.6,281.5 1425.1,281.2 1425.6,281.3 1426.1,280.3 1426.6,282.8 1427.1,281 1427.6,279.8 1428.1,279.9 1428.6,280.5 1429.1,282.6 1429.6,280.4 1430.1,280.6 1430.6,281.5 1431.1,281.6 1431.6,278.8 1432.1,282.8 1432.6,279.8 1433.1,278.8 1433.6,280 1434.1,281.5 1434.6,281.3 1435.1,282.7 1435.6,282.6 1436.1,280.9 1436.6,278.2 1437.1,280.1 1437.6,281.8 1438.1,281.6 1438.6,281.8 1439.1,280.3 1439.6,277.9 1440.1,278.6 1440.6,282.4 1441.1,282.2 1441.6,280.3 1442.1,280.7 1442.6,279.4 1443.1,280.3 1443.6,279 1444.1,280.6 1444.6,278.3 1445.1,279.7 1445.6,278 1446.1,282.6 1446.6,280.5 1447.1,277.9 1447.6,278.4 1448.1,280.1 1448.6,282.5 1449.1,281.4 1449.6,278 1450.1,281.5 1450.6,279.3 1451.1,280.5 1451.6,279.1 1452.1,281.1 1452.6,278 1453.1,281.2 1453.6,282.2 1454.1,282.4 1454.6,282.1 1455.1,278.3 1455.6,280 1456.1,282.1 1456.6,278.4 1457.1,278.2 1457.6,281.5 1458.1,280.2 1458.6,279.6 1459.1,282.7 1459.6,281.4 1460.1,282.7 1460.6,278.9 1461.1,278 1461.6,280 1462.1,281.6 1462.6,281.2 1463.1,278.1 1463.6,281.9 1464.1,281.9 1464.6,279.8 1465.1,281.4 1465.6,279.5 1466.1,280.7 1466.6,281.2 1467.1,278.4 1467.6,282.5 1468.1,282.3 1468.6,282.6 1469.1,278.7 1469.6,281.6 1470.1,279.9 1470.6,282.7 1471.1,279.8 1471.6,282.1 1472.1,277.8 1472.6,278.6 1473.1,280.3 1473.6,277.8 1474.1,281.6 1474.6,279.9 1475.1,279.4 1475.6,278.5 1476.1,282.6 1476.6,281.6 1477.1,282 1477.6,277.8 1478.1,281.6 1478.6,279.8 1479.1,280.8 1479.6,279.9 1480.1,279.8 1480.6,278.7 1481.1,281.7 1481.6,280.8 1482.1,278.9 1482.6,282.5 1483.1,281.5 1483.6,281.1 1484.1,280.4 1484.6,279.8 1485.1,281.8 1485.6,282.4 1486.1,279.1 1486.6,279.2 1529.6,279.2 1530.1,281 1530.6,280.9 1531.1,282.1 1531.6,281.9 1532.1,280 1532.6,278.9 1533.1,280 1533.6,279.7 1534.1,278.1 1534.6,281.2 1535.1,279.2 1535.6,279.6 1536.1,278.7 1536.6,279.7 1537.1,281.9 1537.6,281.4 1538.1,280.1 1538.6,278.7 1539.1,281.7 1539.6,279.5 1540.1,278.8 1540.6,281.9 1541.1,278.8 1541.6,279.7 1542.1,278.9 1542.6,280 1543.1,279.6 1543.6,279.7 1544.1,278.3 1544.6,278.7 1545.1,278.7 1545.6,278.1 1546.1,279.5 1546.6,278.4 1547.1,278.9 1547.6,280.6 1548.1,279.5 1548.6,278.9 1549.1,278.4 1549.6,281.9 1550.1,281.3 1550.6,281.3 1551.1,281.9 1551.6,280.5 1552.1,278.3 1552.6,280.1 1553.1,281.4 1553.6,281.8 1554.1,280.4 1554.6,281.3 1555.1,279.6 1555.6,279.6 1556.1,282.2 1556.6,280.6 1557.1,280.1 1557.6,279.5 1558.1,280 1558.6,279 1559.1,278.3 1559.6,281.6 1560.1,279.9 1560.6,282.2 1561.1,281.4 1561.6,281.6 1562.1,279.5 1562.6,282.1 1563.1,279.5 1563.6,281.5 1564.1,280.6 1564.6,279.7 1565.1,280.5 1565.6,279.7 1566.1,279.5 1566.6,280.6 1567.1,278.3 1567.6,278.4 1568.1,279.7 1568.6,280.4 1569.1,281.8 1569.6,282.1 1570.1,282.2 1570.6,278.1 1571.1,281.5 1571.6,281.1 1572.1,281.8 1572.6,280.8 1573.1,281.1 1573.6,279.2 1576.6,279.2 1577.1,279.1 1577.6,279.1 1578.1,279 1578.6,278.9 1579.1,278.4 1579.6,277.2 1580.1,274.7 1580.6,270.2 1581.1,263.3 1581.6,255.5 1582.1,252.2 1582.6,256.2 1583.1,261.2 1583.6,263.4 1584.1,263.9 1584.6,266.3 1585.1,270.5 1585.6,274.2 1586.1,276.7 1586.6,278 1587.1,278.7 1587.6,279 1588.1,279.1 1588.6,278.3 1589.1,279.9 1589.6,279.7 1590.1,280.3 1590.6,279.3 1591.1,279.6 1591.6,279.6 1592.1,281.1 1592.6,279.7 1593.1,280.1 1593.6,279.6 1594.1,278.9 1594.6,280.3 1595.1,278.4 1595.6,279.2 1596.1,279.1 1596.6,280.9 1597.1,280.8 1597.6,280.2 1598.1,280.2 1598.6,280.7 1599.1,280.6 1599.6,281.1 1600.1,280.4 1600.6,279 1601.1,279.1 1601.6,279.5 1602.1,280.6 1602.6,278.8 1603.1,280 1603.6,279.1 1604.1,279.4 1604.6,280.6 1605.1,280.4 1605.6,279.7 1606.1,281.2 1606.6,280.3 1607.1,278.5 1607.6,280.9 1608.1,280.4 1608.6,280.5 1609.1,280.9 1609.6,279.5 1610.1,281 1610.6,280.7 1611.1,279.7 1611.6,280.3 1612.1,281.3 1612.6,279.2 1613.1,280.3 1613.6,281 1614.1,278.3 1614.6,280.3 1615.1,279.9 1615.6,279.2 1616.1,281.2 1616.6,280.5 1617.1,280.7 1617.6,280.9 1618.1,280.5 1618.6,281.1 1619.1,279 1619.6,280 1620.1,278.5 1620.6,279.4 1621.1,278.9 1621.6,278.8 1622.1,280.9 1622.6,280.9 1623.1,279.5 1623.6,279.1 1624.1,280.1 1624.6,278.6 1625.1,279.5 1625.6,279 1626.1,278.5 1626.6,280.5 1627.1,281.1 1627.6,278.7 1628.1,279.8 1628.6,280.7 1629.1,279.9 1629.6,281.2 1630.1,279.6 1630.6,281.1 1631.1,281.2 1631.6,278.9 1632.1,279.8 1632.6,279.1 1633.1,281 1633.6,280.8 1634.1,280.6 1634.6,278.7 1635.1,280.3 1635.6,279.5 1636.1,280.9 1636.6,280.8 1637.1,281 1637.6,278.9 1638.1,281 1638.6,280.8 1639.1,280.5 1639.6,280.2 1640.1,281.2 1640.6,280.6 1641.1,280.2 1641.6,280.6 1642.1,280 1642.6,279.5 1643.1,279.2 1859.1,279.2 1859.6,281.5 1860.1,279 1860.6,281.1 1861.1,279.5 1861.6,278.9 1862.1,281.3 1862.6,280.4 1863.1,279.9 1863.6,281.8 1864.1,282.1 1864.6,279.1 1865.1,280.3 1865.6,280.5 1866.1,279.9 1866.6,281 1867.1,280.9 1867.6,281.8 1868.1,278.5 1868.6,279.6 1869.1,280.5 1869.6,279.9 1870.1,279.9 1870.6,278.8 1871.1,279.2 1871.6,279.2 1872.1,279.1 1872.6,279.1 1873.1,279 1873.6,278.8 1874.1,278.3 1874.6,276.7 1875.1,273 1875.6,265.9 1876.1,254.6 1876.6,241.8 1877.1,239.1 1877.6,250.1 1878.1,262.1 1878.6,269.8 1879.1,272.5 1879.6,270.9 1880.1,265.9 1880.6,259.9 1881.1,259.4 1881.6,265.2 1882.1,271.3 1882.6,275.4 1883.1,277.6 1883.6,278.5 1884.1,278.8 1884.6,278.8 1885.1,278.6 1885.6,277.8 1886.1,276.2 1886.6,273.5 1887.1,269.2 1887.6,263.9 1888.1,259.8 1888.6,261 1889.1,265.8 1889.6,270.2 1890.1,272.7 1890.6,273 1891.1,271.5 1891.6,269.2 1892.1,268.4 1892.6,270.4 1893.1,273.4 1893.6,275.8 1894.1,277.5 1894.6,278.4 1895.1,278.8 1895.6,279 1896.1,279.1 1896.6,279.2 2004.6,279.2 2005.1,279.1 2005.6,279.1 2006.1,278.9 2006.6,278.6 2007.1,278.2 2007.6,277.6 2008.1,276.9 2008.6,276.3 2009.1,276.3 2009.6,276.9 2010.1,277.6 2010.6,278.2 2011.1,278.6 2011.6,278.9 2012.1,279.1 2012.6,279.1 2013.1,279.2 2065.1,279.2" fill="none" stroke="#008080" stroke-width="3.6" stroke-linejoin="round"/>
<polyline points="1124.1,396.3 1158.1,396.3 1158.6,397.1 1159.1,395.5 1159.6,396.9 1160.1,396.7 1160.6,398.5 1161.1,397.9 1161.6,397.2 1162.1,398.8 1162.6,396.3 1163.1,396.1 1163.6,395.3 1164.1,398.8 1164.6,395.2 1165.1,396 1165.6,395.7 1166.1,398 1166.6,397.4 1167.1,397.2 1167.6,395.3 1168.1,399.3 1168.6,398 1169.1,396.7 1169.6,397.6 1170.1,396.9 1170.6,397.1 1171.1,398.1 1171.6,396.7 1172.1,397 1172.6,396.9 1173.1,396.5 1173.6,399.2 1174.1,395.4 1174.6,396.4 1175.1,395.3 1175.6,398.2 1176.1,395.8 1176.6,395.2 1177.1,396.1 1177.6,397.4 1178.1,396.1 1178.6,398.1 1179.1,396.9 1179.6,398 1180.1,397.4 1180.6,397.3 1181.1,396.8 1181.6,396.6 1182.1,396.5 1182.6,398 1183.1,396.4 1183.6,397.3 1184.1,396.3 1184.6,396.7 1185.1,397.1 1185.6,396.5 1186.1,395.9 1186.6,396.3 1187.1,395.7 1187.6,397.9 1188.1,398.3 1188.6,396.4 1189.1,399 1189.6,397.1 1190.1,398.8 1190.6,398.1 1191.1,397 1191.6,396.9 1192.1,396.4 1192.6,396.2 1193.1,398.1 1193.6,398.6 1194.1,397.7 1194.6,397.3 1195.1,397.6 1195.6,398.9 1196.1,398.8 1196.6,397.2 1197.1,396.4 1197.6,397.4 1198.1,395.2 1198.6,396.4 1199.1,396.1 1199.6,395.9 1200.1,397.9 1200.6,396.3 1201.1,398.9 1201.6,397.7 1202.1,395.9 1202.6,396.9 1203.1,395.5 1203.6,395.7 1204.1,397.6 1204.6,395.6 1205.1,399 1205.6,396.7 1206.1,398.7 1206.6,395.9 1207.1,397.2 1207.6,396.5 1208.1,398.5 1208.6,395.4 1209.1,395.1 1209.6,397.6 1210.1,398.8 1210.6,396 1211.1,396.6 1211.6,399.3 1212.1,396 1212.6,397.7 1213.1,396.4 1213.6,395.9 1214.1,396 1214.6,398.9 1215.1,395.1 1215.6,397.8 1216.1,395.7 1216.6,397.9 1217.1,397.4 1217.6,396.9 1218.1,396.3 1218.6,396.8 1219.1,398.1 1219.6,399 1220.1,395.7 1220.6,396.9 1221.1,398.2 1221.6,399.2 1222.1,398.9 1222.6,398.8 1223.1,396.5 1223.6,399.1 1224.1,397.8 1224.6,397 1225.1,396.3 1225.6,398.6 1226.1,397 1226.6,398.4 1227.1,399 1227.6,396.2 1228.1,395.2 1228.6,398.8 1229.1,398.4 1229.6,398.1 1230.1,396.7 1230.6,396.3 1231.6,396.3 1232.1,396.2 1233.6,396.2 1234.1,396.1 1234.6,395.9 1235.1,395.5 1235.6,394.4 1236.1,391.7 1236.6,385.5 1237.1,374.1 1237.6,356 1238.1,333.2 1238.6,318.4 1239.1,326 1239.6,341.4 1240.1,349.9 1240.6,351.7 1241.1,356.4 1241.6,368.1 1242.1,379.5 1242.6,387.5 1243.1,392.2 1243.6,394.5 1244.1,395.6 1244.6,396 1245.1,396.1 1245.6,396.2 1246.6,396.2 1247.1,396.3 1248.6,396.3 1249.1,397.8 1249.6,397.9 1250.1,395.8 1250.6,398.5 1251.1,398.3 1251.6,397.7 1252.1,398.6 1252.6,398.7 1253.1,395.6 1253.6,398 1254.1,396.5 1254.6,395.9 1255.1,395.5 1255.6,397.4 1256.1,397.7 1256.6,396.5 1257.1,396.7 1257.6,396 1258.1,396.1 1258.6,397 1259.1,398.7 1259.6,396.6 1260.1,396.5 1260.6,396.3 1284.6,396.3 1285.1,396.2 1285.6,396.2 1286.1,396.1 1286.6,396 1287.1,395.5 1287.6,394.4 1288.1,391.8 1288.6,387.2 1289.1,380 1289.6,371.2 1290.1,366.3 1290.6,369.9 1291.1,375.7 1291.6,378.6 1292.1,379.2 1292.6,381.3 1293.1,385.9 1293.6,390.2 1294.1,393.1 1294.6,394.8 1295.1,395.7 1295.6,396 1296.1,396.2 1296.6,396.2 1297.1,396.3 1343.1,396.3 1343.6,396.8 1344.1,396.3 1344.6,396.4 1345.1,395.7 1345.6,397.9 1346.1,395.6 1346.6,398.4 1347.1,396.4 1347.6,397.6 1348.1,398.3 1348.6,398.1 1349.1,397.4 1349.6,397 1350.1,395.7 1350.6,397 1351.1,396.5 1351.6,396.1 1352.1,398.7 1352.6,398.3 1353.1,397.1 1353.6,397.4 1354.1,398.1 1354.6,397.3 1355.1,396.9 1355.6,397.2 1356.1,398.5 1356.6,396.2 1357.1,398.3 1357.6,397.3 1358.1,396.3 1360.1,396.3 1360.6,396.2 1362.1,396.2 1362.6,396.1 1363.1,396 1363.6,395.9 1364.1,395.7 1364.6,395.1 1365.1,393.5 1365.6,389.4 1366.1,379.8 1366.6,360.8 1367.1,329.2 1367.6,285.5 1368.1,246.6 1368.6,247.8 1369.1,278.1 1369.6,300.6 1370.1,307.1 1370.6,312.2 1371.1,332.2 1371.6,356.4 1372.1,374.5 1372.6,385.7 1373.1,391.7 1373.6,394.4 1374.1,395.4 1374.6,395.9 1375.1,396 1375.6,396.1 1376.1,396.2 1377.6,396.2 1378.1,396.3 1378.6,396.3 1379.1,396.8 1379.6,398.1 1380.1,396 1380.6,397.8 1381.1,397.8 1381.6,395.8 1382.1,397.9 1382.6,397.8 1383.1,395.9 1383.6,397.5 1384.1,396.3 1384.6,397 1385.1,396.9 1385.6,396 1386.1,397.5 1386.6,397.9 1387.1,395.9 1387.6,397.7 1388.1,398.1 1388.6,396.3 1574.1,396.3 1574.6,396.2 1575.6,396.2 1576.1,396 1576.6,395.7 1577.1,394.7 1577.6,392.5 1578.1,388.2 1578.6,381.2 1579.1,371.8 1579.6,364 1580.1,365.2 1580.6,371.7 1581.1,376.2 1581.6,377.3 1582.1,378.7 1582.6,383.2 1583.1,388.2 1583.6,391.9 1584.1,394.2 1584.6,395.4 1585.1,395.9 1585.6,396.1 1586.1,396.2 1586.6,396.2 1587.1,396.3 1605.1,396.3 1605.6,397.7 1606.1,396.9 1606.6,395.8 1607.1,396.4 1607.6,398.2 1608.1,398.4 1608.6,398.2 1609.1,397.7 1609.6,395.9 1610.1,398.1 1610.6,397.4 1611.1,398 1611.6,398.1 1612.1,395.9 1612.6,396.2 1613.1,396.2 1613.6,397.8 1614.1,398.6 1614.6,397.6 1615.1,398.3 1615.6,396.9 1616.1,395.9 1616.6,398.5 1617.1,396.3 1617.6,396.8 1618.1,395.8 1618.6,396.2 1619.1,398.1 1619.6,397.7 1620.1,395.6 1620.6,398 1621.1,397.8 1621.6,397.5 1622.1,398.1 1622.6,397.6 1623.1,397.7 1623.6,396.4 1624.1,395.6 1624.6,395.6 1625.1,396.7 1625.6,397.9 1626.1,396.6 1626.6,395.8 1627.1,398.1 1627.6,396.5 1628.1,397.6 1628.6,397.8 1629.1,397.1 1629.6,398.2 1630.1,397.4 1630.6,395.6 1631.1,397 1631.6,397.5 1632.1,397 1632.6,398.3 1633.1,396.3 1676.6,396.3 1677.1,398 1677.6,397 1678.1,398.4 1678.6,396.1 1679.1,397.6 1679.6,399 1680.1,397.4 1680.6,395.5 1681.1,396.8 1681.6,398.9 1682.1,398.4 1682.6,395.4 1683.1,397.3 1683.6,395.9 1684.1,395.4 1684.6,398.9 1685.1,399.2 1685.6,398 1686.1,398 1686.6,396 1687.1,397.6 1687.6,396.9 1688.1,396.3 1727.6,396.3 1728.1,397.5 1728.6,395.9 1729.1,397.7 1729.6,397.6 1730.1,398.1 1730.6,396.7 1731.1,398.3 1731.6,399.1 1732.1,396.8 1732.6,398.7 1733.1,398.5 1733.6,399 1734.1,399.2 1734.6,396.1 1735.1,398.6 1735.6,396 1736.1,397.8 1736.6,396.2 1737.1,396.5 1737.6,395.9 1738.1,395.3 1738.6,398.2 1739.1,398.5 1739.6,395.2 1740.1,396.5 1740.6,397 1741.1,398.9 1741.6,397.2 1742.1,396.5 1742.6,395.5 1743.1,396.2 1743.6,396.6 1744.1,397.3 1744.6,396.6 1745.1,397.5 1745.6,397.8 1746.1,395.5 1746.6,397.7 1747.1,397.5 1747.6,397.5 1748.1,397.2 1748.6,397.7 1749.1,396.1 1749.6,395.9 1750.1,398.2 1750.6,397.4 1751.1,397.5 1751.6,399.1 1752.1,396 1752.6,395.2 1753.1,398.9 1753.6,398.5 1754.1,398.8 1754.6,397.8 1755.1,396.9 1755.6,398.9 1756.1,396.3 1774.6,396.3 1775.1,397.6 1775.6,396.9 1776.1,395.3 1776.6,397.4 1777.1,395.9 1777.6,397.1 1778.1,397.2 1778.6,396.7 1779.1,395.5 1779.6,397.1 1780.1,398.1 1780.6,396.6 1781.1,397.7 1781.6,397.5 1782.1,397.1 1782.6,397 1783.1,398.7 1783.6,397.5 1784.1,396.1 1784.6,395.1 1785.1,397.3 1785.6,397.6 1786.1,397.6 1786.6,395.8 1787.1,397.6 1787.6,399 1788.1,396.3 1869.1,396.3 1869.6,396.2 1870.6,396.2 1871.1,396.1 1871.6,395.7 1872.1,394.8 1872.6,392.4 1873.1,387.1 1873.6,378 1874.1,365.5 1874.6,356.4 1875.1,361.9 1875.6,374.4 1876.1,384.2 1876.6,389.1 1877.1,389.4 1877.6,386 1878.1,380.1 1878.6,376.2 1879.1,379.6 1879.6,386 1880.1,390.9 1880.6,393.9 1881.1,395.3 1881.6,395.9 1882.1,396.1 1882.6,396.1 1883.1,395.9 1883.6,395.4 1884.1,394 1884.6,391.2 1885.1,386.8 1885.6,381.6 1886.1,379.9 1886.6,384 1887.1,388.9 1887.6,392 1888.1,393 1888.6,392 1889.1,389.5 1889.6,387.3 1890.1,388.1 1890.6,390.9 1891.1,393.4 1891.6,395 1892.1,395.8 1892.6,396.1 1893.1,396.2 1893.6,396.3 1931.1,396.3 1931.6,396 1932.1,397.7 1932.6,395.7 1933.1,398.5 1933.6,395.9 1934.1,398.8 1934.6,398.9 1935.1,396.3 1949.6,396.3 1950.1,397.6 1950.6,397.2 1951.1,399.3 1951.6,396.6 1952.1,395.8 1952.6,395.2 1953.1,397.2 1953.6,399.3 1954.1,398.4 1954.6,397.8 1955.1,395.1 1955.6,398.7 1956.1,395.2 1956.6,396.5 1957.1,398.1 1957.6,396 1958.1,397 1958.6,396.4 1959.1,399.4 1959.6,396.2 1960.1,399.2 1960.6,397.2 1961.1,398.6 1961.6,397.7 1962.1,396.6 1962.6,395.2 1963.1,395.7 1963.6,399.1 1964.1,396.8 1964.6,398.4 1965.1,398 1965.6,399.3 1966.1,398.3 1966.6,397.4 1967.1,398.1 1967.6,396.5 1968.1,396.2 1968.6,396 1969.1,395.5 1969.6,397.8 1970.1,396.6 1970.6,398.5 1971.1,399.2 1971.6,398.4 1972.1,399.3 1972.6,399.3 1973.1,398.2 1973.6,398 1974.1,397.5 1974.6,397.8 1975.1,397 1975.6,395.7 1976.1,399 1976.6,398.3 1977.1,395.9 1977.6,397.4 1978.1,398.1 1978.6,395.6 1979.1,397.9 1979.6,397 1980.1,398.7 1980.6,397.5 1981.1,395.2 1981.6,398.2 1982.1,397.3 1982.6,396.5 1983.1,399.2 1983.6,395.4 1984.1,397.6 1984.6,396 1985.1,398.5 1985.6,395.3 1986.1,396.4 1986.6,397.8 1987.1,397.1 1987.6,398.4 1988.1,398.4 1988.6,397.6 1989.1,399.1 1989.6,398.4 1990.1,398.4 1990.6,397.3 1991.1,395.2 1991.6,395.5 1992.1,397.3 1992.6,398 1993.1,395.5 1993.6,397.6 1994.1,395.4 1994.6,398.1 1995.1,395.2 1995.6,396.2 1996.1,396.6 1996.6,395.7 1997.1,397 1997.6,396.3 2003.1,396.3 2003.6,396.2 2004.1,396.2 2004.6,396 2005.1,395.7 2005.6,395.2 2006.1,394.5 2006.6,393.6 2007.1,392.6 2007.6,392.3 2008.1,392.9 2008.6,393.8 2009.1,394.7 2009.6,395.4 2010.1,395.8 2010.6,396 2011.1,396.2 2011.6,396.2 2012.1,396.3 2015.6,396.3 2016.1,399.6 2016.6,397.9 2017.1,397.2 2017.6,398.2 2018.1,395.6 2018.6,399.6 2019.1,397.4 2019.6,398.4 2020.1,396.1 2020.6,395.5 2021.1,397 2021.6,398.3 2022.1,396.9 2022.6,398.2 2023.1,397.4 2023.6,396.7 2024.1,396.2 2024.6,397.1 2025.1,396.1 2025.6,396.3 2026.1,395.6 2026.6,399.3 2027.1,396.5 2027.6,396.2 2028.1,396.8 2028.6,399.5 2029.1,399.7 2029.6,395.8 2030.1,397 2030.6,397.7 2031.1,395.9 2031.6,399.7 2032.1,395.6 2032.6,399.5 2033.1,399.3 2033.6,396.6 2034.1,397.6 2034.6,399.5 2035.1,398.5 2035.6,396.1 2036.1,399.4 2036.6,399.3 2037.1,395.4 2037.6,398.5 2038.1,396.5 2038.6,398.3 2039.1,398.3 2039.6,397.2 2040.1,397.9 2040.6,397.1 2041.1,398.8 2041.6,396.8 2042.1,397.5 2042.6,395 2043.1,395.2 2043.6,399 2044.1,399.5 2044.6,397 2045.1,396.7 2045.6,398.2 2046.1,398.8 2046.6,398 2047.1,399.5 2047.6,397.6 2048.1,395.9 2048.6,396.7 2049.1,396.3 2049.6,397.9 2050.1,395.7 2050.6,397 2051.1,396 2051.6,399.1 2052.1,396.3 2052.6,399.6 2053.1,398.1 2053.6,398 2054.1,398.6 2054.6,398.2 2055.1,395.6 2055.6,395.6 2056.1,398.7 2056.6,396 2057.1,398.9 2057.6,399.1 2058.1,395.5 2058.6,399.4 2059.1,396.8 2059.6,395.5 2060.1,395.4 2060.6,399.1 2061.1,395.8 2061.6,395.5 2062.1,399.7 2062.6,397.5 2063.1,398.3 2063.6,397.4 2064.1,398.8 2064.6,397.9 2065.1,395.4" fill="none" stroke="#0000ff" stroke-width="3.0" stroke-linejoin="round"/>
<polyline points="1124.1,519.4 1124.6,519.7 1125.1,518.6 1125.6,520.2 1126.1,521.6 1126.6,520.3 1127.1,518.9 1127.6,519.8 1128.1,522.1 1128.6,519.1 1129.1,521.3 1129.6,521.1 1130.1,519.9 1130.6,519.8 1131.1,519.6 1131.6,522.3 1132.1,522.4 1132.6,518.7 1133.1,521.5 1133.6,521.2 1134.1,519.9 1134.6,522 1135.1,520 1135.6,519.1 1136.1,520.9 1136.6,521.9 1137.1,520.2 1137.6,521.6 1138.1,521 1138.6,520.8 1139.1,521 1139.6,520.9 1140.1,521.2 1140.6,520.8 1141.1,518.4 1141.6,519.6 1142.1,521.5 1142.6,519.5 1143.1,522.2 1143.6,520.4 1144.1,522.2 1144.6,520.3 1145.1,521.3 1145.6,520.2 1146.1,519.5 1146.6,522.3 1147.1,519.1 1147.6,519.4 1234.6,519.4 1235.1,519.3 1236.1,519.3 1236.6,519.2 1237.1,519 1237.6,518.7 1238.1,517.8 1238.6,515.9 1239.1,512.4 1239.6,506.6 1240.1,498.1 1240.6,487.6 1241.1,479.1 1241.6,479 1242.1,484.8 1242.6,490 1243.1,492.7 1243.6,495.5 1244.1,501 1244.6,507.2 1245.1,512 1245.6,515.3 1246.1,517.3 1246.6,518.4 1247.1,518.9 1247.6,519.2 1248.1,519.3 1249.1,519.3 1249.6,519.4 1286.6,519.4 1287.1,519.3 1287.6,519.3 1288.1,519.2 1288.6,518.9 1289.1,518.4 1289.6,517.2 1290.1,515.1 1290.6,511.7 1291.1,506.9 1291.6,501.3 1292.1,497.6 1292.6,498.6 1293.1,501.8 1293.6,504.2 1294.1,505.5 1294.6,507.3 1295.1,510.4 1295.6,513.6 1296.1,516 1296.6,517.5 1297.1,518.5 1297.6,519 1298.1,519.2 1298.6,519.3 1299.1,519.3 1299.6,519.4 1305.1,519.4 1305.6,520.5 1306.1,519.5 1306.6,520 1307.1,522 1307.6,520.1 1308.1,522.1 1308.6,521.7 1309.1,521.1 1309.6,518.3 1310.1,518.8 1310.6,520.5 1311.1,522.3 1311.6,521.7 1312.1,522.1 1312.6,519.1 1313.1,520.8 1313.6,520.2 1314.1,520 1314.6,519.8 1315.1,520.7 1315.6,518.9 1316.1,520.2 1316.6,520.7 1317.1,520.1 1317.6,521.6 1318.1,521.4 1318.6,521.3 1319.1,519 1319.6,521.4 1320.1,519.5 1320.6,520.2 1321.1,518.3 1321.6,519.6 1322.1,522.2 1322.6,519.3 1323.1,518.9 1323.6,518.4 1324.1,522.2 1324.6,521.8 1325.1,519.8 1325.6,521.2 1326.1,518.9 1326.6,520.9 1327.1,519 1327.6,520.1 1328.1,521.3 1328.6,522.4 1329.1,518.2 1329.6,518.3 1330.1,520.6 1330.6,519 1331.1,519.5 1331.6,518.3 1332.1,518.6 1332.6,518.8 1333.1,518.9 1333.6,519.6 1334.1,518.7 1334.6,520.7 1335.1,522.3 1335.6,520 1336.1,522 1336.6,520.6 1337.1,519.8 1337.6,520.1 1338.1,522 1338.6,519.3 1339.1,521.1 1339.6,521.4 1340.1,518.6 1340.6,520.7 1341.1,521.6 1341.6,519.4 1359.1,519.4 1359.6,519.3 1362.1,519.3 1362.6,519.2 1363.6,519.2 1364.1,519.1 1364.6,519 1365.1,518.8 1365.6,518.5 1366.1,518 1366.6,517 1367.1,515.4 1367.6,512.8 1368.1,508.8 1368.6,502.8 1369.1,494.5 1369.6,483.5 1370.1,469.5 1370.6,453.2 1371.1,436.3 1371.6,423 1372.1,417.5 1372.6,420 1373.1,426.8 1373.6,434.9 1374.1,444.7 1374.6,456.7 1375.1,470 1375.6,482.6 1376.1,493.1 1376.6,501.3 1377.1,507.3 1377.6,511.6 1378.1,514.5 1378.6,516.4 1379.1,517.5 1379.6,518.2 1380.1,518.7 1380.6,518.9 1381.1,519.1 1381.6,519.1 1382.1,519.2 1382.6,519.2 1383.1,519.3 1385.6,519.3 1386.1,519.4 1386.6,521.6 1387.1,520.6 1387.6,520.6 1388.1,518.8 1388.6,520.5 1389.1,522 1389.6,519.9 1390.1,519.2 1390.6,519 1391.1,521.1 1391.6,521.1 1392.1,520.9 1392.6,518.9 1393.1,519.2 1393.6,519.5 1394.1,519.6 1394.6,518.6 1395.1,520.4 1395.6,520.9 1396.1,520.5 1396.6,522.1 1397.1,518.9 1397.6,522.6 1398.1,519.4 1398.6,522.3 1399.1,519.1 1399.6,519.3 1400.1,520.1 1400.6,521.3 1401.1,521.9 1401.6,518.4 1402.1,519.3 1402.6,522 1403.1,521.3 1403.6,518.7 1404.1,520.6 1404.6,519.2 1405.1,518.6 1405.6,519.7 1406.1,519.7 1406.6,519.1 1407.1,519.7 1407.6,520.9 1408.1,519.6 1408.6,522.5 1409.1,522.3 1409.6,520.3 1410.1,518.2 1410.6,521.4 1411.1,520.8 1411.6,519.6 1412.1,520.2 1412.6,518.7 1413.1,518.2 1413.6,520.8 1414.1,522.5 1414.6,519 1415.1,518.7 1415.6,518.5 1416.1,519.2 1416.6,521.1 1417.1,520.4 1417.6,520.3 1418.1,522.5 1418.6,520.2 1419.1,520.1 1419.6,520.2 1420.1,519.4 1420.6,521.5 1421.1,522.3 1421.6,519.1 1422.1,519.1 1422.6,522 1423.1,522.1 1423.6,518.8 1424.1,520.8 1424.6,519.3 1425.1,520.9 1425.6,518.6 1426.1,518.2 1426.6,518.8 1427.1,520.4 1427.6,521.4 1428.1,522.5 1428.6,520.8 1429.1,520.4 1429.6,522 1430.1,520.5 1430.6,522.5 1431.1,518.8 1431.6,520.6 1432.1,520.7 1432.6,521.7 1433.1,521 1433.6,521.9 1434.1,518.8 1434.6,518.2 1435.1,521.7 1435.6,518.9 1436.1,520.9 1436.6,520.6 1437.1,519.5 1437.6,520.3 1438.1,518.5 1438.6,522.4 1439.1,519.1 1439.6,519.6 1440.1,518.2 1440.6,518.6 1441.1,520 1441.6,519 1442.1,519.5 1442.6,521 1443.1,522.2 1443.6,519.3 1444.1,519.4 1444.6,518.9 1445.1,520.5 1445.6,522 1446.1,522.1 1446.6,521.1 1447.1,522.1 1447.6,519.7 1448.1,521.4 1448.6,521.4 1449.1,520.4 1449.6,518.5 1450.1,521.9 1450.6,519.1 1451.1,518.4 1451.6,518.9 1452.1,518.5 1452.6,518.7 1453.1,521 1453.6,520.9 1454.1,521.6 1454.6,519.2 1455.1,521.1 1455.6,518.2 1456.1,520.8 1456.6,519.4 1575.1,519.4 1575.6,519.3 1576.6,519.3 1577.1,519.1 1577.6,518.8 1578.1,518.2 1578.6,516.8 1579.1,514.3 1579.6,510.5 1580.1,505.2 1580.6,499.5 1581.1,496.4 1581.6,498.2 1582.1,501.6 1582.6,503.8 1583.1,505.1 1583.6,507.3 1584.1,510.7 1584.6,513.8 1585.1,516.2 1585.6,517.7 1586.1,518.5 1586.6,519 1587.1,519.2 1587.6,519.3 1588.1,519.3 1588.6,519.4 1871.6,519.4 1872.1,519.3 1872.6,519.3 1873.1,519.2 1873.6,519.1 1874.1,518.6 1874.6,517.7 1875.1,515.9 1875.6,512.7 1876.1,507.7 1876.6,501.2 1877.1,494.6 1877.6,492.4 1878.1,496.7 1878.6,503.2 1879.1,508.2 1879.6,510.7 1880.1,510.7 1880.6,508.8 1881.1,506.3 1881.6,505.8 1882.1,508.4 1882.6,511.9 1883.1,514.9 1883.6,516.9 1884.1,518.1 1884.6,518.8 1885.1,519.1 1885.6,519.2 1886.6,519.2 1887.1,519.1 1887.6,518.7 1888.1,518.1 1888.6,517 1889.1,515.3 1889.6,513 1890.1,510.4 1890.6,508.8 1891.1,509.5 1891.6,511.6 1892.1,513.6 1892.6,514.7 1893.1,514.9 1893.6,514.4 1894.1,513.6 1894.6,513.5 1895.1,514.5 1895.6,516 1896.1,517.2 1896.6,518.1 1897.1,518.7 1897.6,519.1 1898.1,519.2 1898.6,519.3 1899.1,519.4 2006.6,519.4 2007.1,519.3 2007.6,519.2 2008.1,519 2008.6,518.7 2009.1,518.3 2009.6,517.9 2010.1,517.5 2010.6,517.5 2011.1,517.8 2011.6,518.3 2012.1,518.7 2012.6,519 2013.1,519.2 2013.6,519.3 2014.1,519.4 2065.1,519.4" fill="none" stroke="#ff0000" stroke-width="3.0" stroke-linejoin="round"/>
<polyline points="1124.1,601.4 1124.6,604.3 1125.1,603.6 1125.6,604.4 1126.1,604 1126.6,600.4 1127.1,602.1 1127.6,603.5 1128.1,602.2 1128.6,600.4 1129.1,603.8 1129.6,604.2 1130.1,602.1 1130.6,602.7 1131.1,603.1 1131.6,600.7 1132.1,603.3 1132.6,600.4 1133.1,600.8 1133.6,601.5 1134.1,601.2 1134.6,603.5 1135.1,602.3 1135.6,604.1 1136.1,601.7 1136.6,600.8 1137.1,603.1 1137.6,602.9 1138.1,604.2 1138.6,602.1 1139.1,603.9 1139.6,604.1 1140.1,602.7 1140.6,600.3 1141.1,602.8 1141.6,602.9 1142.1,600.4 1142.6,603.6 1143.1,601.4 1143.6,604.2 1144.1,602.9 1144.6,604.3 1145.1,601.3 1145.6,603.1 1146.1,603.7 1146.6,603.5 1147.1,601.7 1147.6,602.4 1148.1,602.5 1148.6,603.3 1149.1,603.2 1149.6,600.4 1150.1,600.3 1150.6,601.4 1158.1,601.4 1158.6,602.1 1159.1,602.4 1159.6,601.2 1160.1,601.1 1160.6,602.8 1161.1,602 1161.6,602.8 1162.1,601.5 1162.6,603.1 1163.1,601.3 1163.6,602.6 1164.1,603.2 1164.6,601.6 1165.1,602.9 1165.6,601 1166.1,601.1 1166.6,601.4 1167.1,601.7 1167.6,603.1 1168.1,602.6 1168.6,602.9 1169.1,601.9 1169.6,602.4 1170.1,602.5 1170.6,601.7 1171.1,603 1171.6,600.7 1172.1,602.7 1172.6,601.9 1173.1,601.2 1173.6,601.4 1174.1,600.8 1174.6,601.6 1175.1,601.8 1175.6,603 1176.1,601 1176.6,601.9 1177.1,603.1 1177.6,601.4 1232.6,601.4 1233.1,601.3 1233.6,601.3 1234.1,601.2 1234.6,601.1 1235.1,600.8 1235.6,599.6 1236.1,596.1 1236.6,587.9 1237.1,572.9 1237.6,552 1238.1,540.4 1238.6,552.7 1239.1,567.6 1239.6,572.6 1240.1,570.2 1240.6,573 1241.1,583.4 1241.6,592.2 1242.1,597.5 1242.6,600 1243.1,600.9 1243.6,601.2 1244.1,601.3 1244.6,601.3 1245.1,601.4 1284.1,601.4 1284.6,601.3 1285.1,601.3 1285.6,601.2 1286.1,600.9 1286.6,599.9 1287.1,597 1287.6,590.7 1288.1,579.8 1288.6,566.1 1289.1,562.1 1289.6,572.1 1290.1,580.6 1290.6,582.4 1291.1,580.7 1291.6,584.2 1292.1,591.1 1292.6,596.4 1293.1,599.3 1293.6,600.7 1294.1,601.1 1294.6,601.3 1295.1,601.3 1295.6,601.4 1361.6,601.4 1362.1,601.3 1363.1,601.3 1363.6,601.2 1364.1,601.2 1364.6,601.1 1365.1,600.9 1365.6,600.5 1366.1,599.2 1366.6,595.1 1367.1,583.3 1367.6,555.7 1368.1,505.4 1368.6,436.8 1369.1,401.7 1369.6,443.9 1370.1,491.9 1370.6,507 1371.1,498.8 1371.6,509.4 1372.1,543.7 1372.6,572.2 1373.1,589 1373.6,596.9 1374.1,599.8 1374.6,600.7 1375.1,601 1375.6,601.2 1376.1,601.2 1376.6,601.3 1377.6,601.3 1378.1,601.4 1441.1,601.4 1441.6,602.7 1442.1,604.2 1442.6,603.2 1443.1,602.9 1443.6,602.9 1444.1,602.8 1444.6,600.2 1445.1,601.1 1445.6,601.5 1446.1,604.3 1446.6,600.5 1447.1,603.4 1447.6,601.5 1448.1,600.8 1448.6,600.9 1449.1,602.7 1449.6,603.8 1450.1,604.5 1450.6,600.8 1451.1,603.2 1451.6,602.1 1452.1,603.8 1452.6,603.5 1453.1,603.6 1453.6,604.2 1454.1,601.2 1454.6,604.3 1455.1,604.2 1455.6,602.3 1456.1,604.4 1456.6,603.5 1457.1,601.2 1457.6,604.6 1458.1,603.9 1458.6,602.8 1459.1,604 1459.6,602.9 1460.1,600.9 1460.6,600.3 1461.1,602.4 1461.6,604.5 1462.1,603.5 1462.6,601.8 1463.1,603.6 1463.6,603.5 1464.1,603.6 1464.6,602.2 1465.1,602.2 1465.6,602 1466.1,600.4 1466.6,601.9 1467.1,600.6 1467.6,603.2 1468.1,600.4 1468.6,603.7 1469.1,604 1469.6,603.9 1470.1,602.5 1470.6,603.1 1471.1,603.3 1471.6,602.6 1472.1,604.4 1472.6,601.4 1473.1,600.3 1473.6,603.4 1474.1,601.3 1474.6,602.8 1475.1,603.4 1475.6,602.6 1476.1,604 1476.6,602 1477.1,604 1477.6,601.8 1478.1,600.2 1478.6,604.5 1479.1,603 1479.6,600.7 1480.1,602.9 1480.6,603.6 1481.1,602.6 1481.6,600.5 1482.1,600.2 1482.6,604.1 1483.1,603 1483.6,604 1484.1,600.2 1484.6,601 1485.1,600.4 1485.6,601.7 1486.1,601.2 1486.6,602.2 1487.1,603.8 1487.6,603.4 1488.1,600.9 1488.6,603.5 1489.1,603.7 1489.6,601.2 1490.1,604.4 1490.6,602.6 1491.1,601.8 1491.6,602.8 1492.1,602.9 1492.6,601.8 1493.1,600.6 1493.6,600.1 1494.1,602.6 1494.6,602.5 1495.1,604.1 1495.6,603.2 1496.1,600.8 1496.6,603.5 1497.1,601.9 1497.6,603.6 1498.1,600.7 1498.6,600.5 1499.1,602.6 1499.6,601 1500.1,602.2 1500.6,601.3 1501.1,602.1 1501.6,602.5 1502.1,603.7 1502.6,602.8 1503.1,601.4 1503.6,600.6 1504.1,601.2 1504.6,604.6 1505.1,602.4 1505.6,603.7 1506.1,600.7 1506.6,603.7 1507.1,600.2 1507.6,601.5 1508.1,602.4 1508.6,600.9 1509.1,603.4 1509.6,601.6 1510.1,602.6 1510.6,603 1511.1,603.1 1511.6,604.4 1512.1,602.6 1512.6,604.1 1513.1,603.4 1513.6,601.4 1514.1,601.3 1514.6,601.5 1515.1,600.7 1515.6,604 1516.1,601.4 1516.6,600.4 1517.1,601.8 1517.6,600.6 1518.1,600.3 1518.6,604.1 1519.1,604.6 1519.6,604.3 1520.1,600.7 1520.6,604.5 1521.1,604.3 1521.6,601.7 1522.1,604.2 1522.6,600.9 1523.1,603 1523.6,604.4 1524.1,600.1 1524.6,600.8 1525.1,601.8 1525.6,601.1 1526.1,601.3 1526.6,603.1 1527.1,602.1 1527.6,600.9 1528.1,601.6 1528.6,604.1 1529.1,602.3 1529.6,602 1530.1,604.4 1530.6,601.2 1531.1,601.3 1531.6,600.9 1532.1,600.9 1532.6,603.5 1533.1,601.6 1533.6,602.2 1534.1,602.4 1534.6,601.8 1535.1,601.8 1535.6,600.7 1536.1,603.9 1536.6,604.4 1537.1,602.8 1537.6,603.3 1538.1,603.5 1538.6,602.1 1539.1,602.8 1539.6,603.2 1540.1,602.8 1540.6,603.3 1541.1,603.5 1541.6,604.4 1542.1,600.9 1542.6,600.2 1543.1,604.2 1543.6,602.1 1544.1,603.4 1544.6,602.8 1545.1,604.2 1545.6,601.1 1546.1,603.9 1546.6,603.9 1547.1,603.4 1547.6,601.2 1548.1,601.3 1548.6,602.4 1549.1,600.2 1549.6,601.4 1550.1,602.1 1550.6,600.1 1551.1,601.2 1551.6,602.2 1552.1,604 1552.6,602 1553.1,601.2 1553.6,601.5 1554.1,604.1 1554.6,600.8 1555.1,600.2 1555.6,601.6 1556.1,603.8 1556.6,603 1557.1,604 1557.6,604.5 1558.1,604.2 1558.6,601.5 1559.1,603.8 1559.6,601.3 1560.1,600.2 1560.6,603.7 1561.1,602.8 1561.6,602.1 1562.1,604.1 1562.6,604.5 1563.1,601.3 1563.6,604.2 1564.1,602.1 1564.6,602.2 1565.1,603.3 1565.6,603.8 1566.1,602.7 1566.6,602.4 1567.1,602.2 1567.6,600.6 1568.1,602 1568.6,602.1 1569.1,602.3 1569.6,604.1 1570.1,600.2 1570.6,600.9 1571.1,602.3 1571.6,602.8 1572.1,603.6 1572.6,601.4 1573.1,604.3 1573.6,603.8 1574.1,601.7 1574.6,604.3 1575.1,602.7 1575.6,600.3 1576.1,598 1576.6,595 1577.1,582.5 1577.6,566.2 1578.1,551.4 1578.6,555.8 1579.1,569.6 1579.6,576.9 1580.1,576.2 1580.6,575.8 1581.1,583.2 1581.6,591.5 1582.1,596.9 1582.6,599.7 1583.1,600.8 1583.6,601.2 1584.1,601.3 1584.6,601.3 1585.1,601.4 1588.1,601.4 1588.6,602.1 1589.1,601.6 1589.6,602.8 1590.1,602.1 1590.6,602.8 1591.1,602 1591.6,602.2 1592.1,601.8 1592.6,600.2 1593.1,601.3 1593.6,602.3 1594.1,603 1594.6,602.5 1595.1,603.2 1595.6,602.6 1596.1,601.8 1596.6,603.3 1597.1,602.9 1597.6,603 1598.1,603 1598.6,600.1 1599.1,603.8 1599.6,603.1 1600.1,600.6 1600.6,600.4 1601.1,600.4 1601.6,602.9 1602.1,602.6 1602.6,602.9 1603.1,601.4 1603.6,602.6 1604.1,604.1 1604.6,603.9 1605.1,603.1 1605.6,600.8 1606.1,602.3 1606.6,603.8 1607.1,602 1607.6,600.3 1608.1,600.1 1608.6,600.9 1609.1,603.9 1609.6,604.3 1610.1,603.8 1610.6,602.1 1611.1,603.6 1611.6,601 1612.1,603.8 1612.6,602.8 1613.1,603.8 1613.6,603.4 1614.1,604.4 1614.6,600.5 1615.1,604.2 1615.6,603.1 1616.1,602.8 1616.6,602.1 1617.1,603.5 1617.6,604.1 1618.1,600.6 1618.6,602.5 1619.1,602.5 1619.6,601.2 1620.1,602.4 1620.6,604.1 1621.1,602.4 1621.6,602.6 1622.1,603.6 1622.6,603.6 1623.1,604.1 1623.6,603.9 1624.1,602.8 1624.6,601.7 1625.1,603.4 1625.6,603.8 1626.1,601.3 1626.6,604.5 1627.1,601.9 1627.6,603.4 1628.1,602 1628.6,602.5 1629.1,604.4 1629.6,600.1 1630.1,602.1 1630.6,601.8 1631.1,603.2 1631.6,603.8 1632.1,600.1 1632.6,604.1 1633.1,604.6 1633.6,600.2 1634.1,600.4 1634.6,601.1 1635.1,602.1 1635.6,601.3 1636.1,603.8 1636.6,601.5 1637.1,604 1637.6,601 1638.1,603.2 1638.6,604.6 1639.1,600.8 1639.6,604.4 1640.1,604.2 1640.6,601.5 1641.1,601.9 1641.6,601.1 1642.1,602.6 1642.6,603 1643.1,601.4 1643.6,601.7 1644.1,602.2 1644.6,602.8 1645.1,602.7 1645.6,601.6 1646.1,602.2 1646.6,600.4 1647.1,602.9 1647.6,602.5 1648.1,604.3 1648.6,603 1649.1,603.7 1649.6,604.3 1650.1,600.4 1650.6,604.3 1651.1,604.5 1651.6,600.2 1652.1,600.3 1652.6,600.5 1653.1,603.3 1653.6,603.2 1654.1,604.1 1654.6,602.7 1655.1,602.9 1655.6,604.5 1656.1,600.6 1656.6,603.2 1657.1,601.6 1657.6,602.3 1658.1,604.3 1658.6,603.7 1659.1,600.6 1659.6,603.1 1660.1,602.3 1660.6,602.2 1661.1,603.9 1661.6,603.4 1662.1,603.2 1662.6,603.6 1663.1,603.1 1663.6,603.2 1664.1,604.1 1664.6,601 1665.1,603.4 1665.6,602.7 1666.1,602.2 1666.6,601.7 1667.1,603.6 1667.6,602.6 1668.1,600.2 1668.6,602.2 1669.1,600.2 1669.6,600.8 1670.1,602.1 1670.6,602.2 1671.1,601 1671.6,601.8 1672.1,602.1 1672.6,601.6 1673.1,602.2 1673.6,600.5 1674.1,604.5 1674.6,602.6 1675.1,602.5 1675.6,600.9 1676.1,602.2 1676.6,601 1677.1,602.5 1677.6,602.2 1678.1,600.3 1678.6,604 1679.1,602.4 1679.6,603.2 1680.1,600.5 1680.6,603.5 1681.1,600.2 1681.6,603.4 1682.1,601.1 1682.6,602.3 1683.1,601 1683.6,600.4 1684.1,604.3 1684.6,600.6 1685.1,600.7 1685.6,602.4 1686.1,603.8 1686.6,604.3 1687.1,603.3 1687.6,602.8 1688.1,601.4 1688.6,600.5 1689.1,601.3 1689.6,603.1 1690.1,601.3 1690.6,603.5 1691.1,603 1691.6,602.5 1692.1,604.5 1692.6,601.8 1693.1,601 1693.6,603.2 1694.1,604.2 1694.6,603.5 1695.1,603.2 1695.6,603.7 1696.1,600.9 1696.6,604 1697.1,601.4 1697.6,602.7 1698.1,602.3 1698.6,602.3 1699.1,601.2 1699.6,600.5 1700.1,602.7 1700.6,602 1701.1,602.2 1701.6,602.6 1702.1,602.3 1702.6,603.8 1703.1,602.3 1703.6,600.2 1704.1,602.5 1704.6,602 1705.1,604.3 1705.6,603.1 1706.1,601.6 1706.6,601.7 1707.1,602.8 1707.6,602.3 1708.1,600.9 1708.6,604.1 1709.1,601.4 1727.6,601.4 1728.1,601.7 1728.6,600.9 1729.1,602.6 1729.6,601.6 1730.1,601.7 1730.6,602.1 1731.1,602.4 1731.6,601.6 1732.1,601.6 1732.6,602.3 1733.1,603.2 1733.6,601.2 1734.1,602.9 1734.6,600.5 1735.1,600.8 1735.6,602.3 1736.1,601.2 1736.6,601.9 1737.1,600.6 1737.6,602.8 1738.1,602 1738.6,601.3 1739.1,601.3 1739.6,602.4 1740.1,600.5 1740.6,601.3 1741.1,601.8 1741.6,602.4 1742.1,601.2 1742.6,602.8 1743.1,601.8 1743.6,602.6 1744.1,600.7 1744.6,603 1745.1,602.2 1745.6,603.8 1746.1,600.5 1746.6,601.3 1747.1,601.9 1747.6,601.8 1748.1,603.2 1748.6,600.6 1749.1,602.1 1749.6,600.9 1750.1,603.4 1750.6,603 1751.1,603.2 1751.6,601.2 1752.1,600.9 1752.6,601.4 1753.1,601.4 1753.6,602.4 1754.1,602.4 1754.6,602.8 1755.1,603.4 1755.6,601.1 1756.1,603.8 1756.6,603.6 1757.1,603.4 1757.6,601.5 1758.1,601.4 1793.6,601.4 1794.1,600.5 1794.6,600.1 1795.1,604.7 1795.6,604.5 1796.1,604 1796.6,603.1 1797.1,600.1 1797.6,602.7 1798.1,604.3 1798.6,602.2 1799.1,602.1 1799.6,600.6 1800.1,603.1 1800.6,600.8 1801.1,603.7 1801.6,604.4 1802.1,604.7 1802.6,601.3 1803.1,601.5 1803.6,604.3 1804.1,601.6 1804.6,603.3 1805.1,600.2 1805.6,600.8 1806.1,603 1806.6,603.1 1807.1,603 1807.6,601.9 1808.1,600.6 1808.6,600.1 1809.1,600.5 1809.6,604 1810.1,603.2 1810.6,604 1811.1,600.3 1811.6,604 1812.1,603.3 1812.6,603.1 1813.1,601.4 1813.6,601.1 1814.1,602.9 1814.6,604.4 1815.1,601.8 1815.6,601.7 1816.1,602.1 1816.6,601 1817.1,604.1 1817.6,602.3 1818.1,603 1818.6,604.6 1819.1,600.8 1819.6,601.9 1820.1,600.7 1820.6,602.5 1821.1,602.1 1821.6,603.4 1822.1,601.4 1822.6,604.5 1823.1,604.3 1823.6,601.6 1824.1,601.9 1824.6,601.7 1825.1,603.3 1825.6,602.2 1826.1,602.5 1826.6,600.9 1827.1,604.7 1827.6,604.5 1828.1,603.2 1828.6,604.8 1829.1,604 1829.6,603.1 1830.1,602.7 1830.6,604 1831.1,602 1831.6,600.3 1832.1,602.9 1832.6,604.6 1833.1,604.4 1833.6,603 1834.1,602.9 1834.6,603.5 1835.1,603.7 1835.6,603.7 1836.1,602.1 1836.6,604.7 1837.1,602 1837.6,600.6 1838.1,603.5 1838.6,604.7 1839.1,602.1 1839.6,600.4 1840.1,600.8 1840.6,601.3 1841.1,604.6 1841.6,602.3 1842.1,602.5 1842.6,602.1 1843.1,600.3 1843.6,603.4 1844.1,603.4 1844.6,600.2 1845.1,602.4 1845.6,600.5 1846.1,604.7 1846.6,601 1847.1,600.7 1847.6,602.3 1848.1,602.1 1848.6,603.4 1849.1,600 1849.6,602.3 1850.1,601.6 1850.6,604.3 1851.1,603.8 1851.6,600.5 1852.1,601 1852.6,601.9 1853.1,601.2 1853.6,600.1 1854.1,604.4 1854.6,604.2 1855.1,600.7 1855.6,604.1 1856.1,603.5 1856.6,602.7 1857.1,602.9 1857.6,601.3 1858.1,602 1858.6,602.1 1859.1,600.5 1859.6,603.8 1860.1,601.3 1860.6,600.8 1861.1,604.7 1861.6,601.2 1862.1,604.4 1862.6,602 1863.1,604.2 1863.6,604.6 1864.1,604.1 1864.6,602.7 1865.1,604.3 1865.6,601.4 1866.1,604.5 1866.6,601.3 1867.1,600.1 1867.6,601.4 1870.1,601.4 1870.6,601.3 1871.1,601.3 1871.6,601.2 1872.1,601.1 1872.6,600.4 1873.1,598.2 1873.6,592.1 1874.1,579.1 1874.6,559.5 1875.1,548.5 1875.6,563.7 1876.1,582.3 1876.6,593.3 1877.1,597.2 1877.6,595.6 1878.1,589.3 1878.6,579.5 1879.1,575.1 1879.6,583.4 1880.1,592.5 1880.6,597.9 1881.1,600.3 1881.6,601 1882.1,601.2 1882.6,601.3 1883.1,601.3 1883.6,601.2 1884.1,600.7 1884.6,599.3 1885.1,595.6 1885.6,588.7 1886.1,580.2 1886.6,580 1887.1,588.4 1887.6,595.3 1888.1,598.6 1888.6,598.8 1889.1,596.5 1889.6,592 1890.1,588.7 1890.6,591.6 1891.1,596.3 1891.6,599.3 1892.1,600.7 1892.6,601.2 1893.1,601.3 1893.6,601.4 1895.1,601.4 1895.6,603.8 1896.1,600.9 1896.6,600.8 1897.1,602 1897.6,603.5 1898.1,604.2 1898.6,603.7 1899.1,601.3 1899.6,601.6 1900.1,604.3 1900.6,604 1901.1,604 1901.6,602.6 1902.1,602.4 1902.6,600.8 1903.1,602.8 1903.6,600.2 1904.1,600.8 1904.6,603.2 1905.1,603 1905.6,604.4 1906.1,603.6 1906.6,604.3 1907.1,601.6 1907.6,602.6 1908.1,601.1 1908.6,603.3 1909.1,603.3 1909.6,603.6 1910.1,600.4 1910.6,602.6 1911.1,603.1 1911.6,603.5 1912.1,602.9 1912.6,603.1 1913.1,601.1 1913.6,601.1 1914.1,602.1 1914.6,604.3 1915.1,602.2 1915.6,601.5 1916.1,602.2 1916.6,601.4 1925.1,601.4 1925.6,600.9 1926.1,601.4 1926.6,603.2 1927.1,603.3 1927.6,601.8 1928.1,601.2 1928.6,602.9 1929.1,600.6 1929.6,601.9 1930.1,602.2 1930.6,600.8 1931.1,602.2 1931.6,600.7 1932.1,601.8 1932.6,602 1933.1,602.3 1933.6,602.6 1934.1,603.4 1934.6,603 1935.1,602.4 1935.6,602.2 1936.1,602.2 1936.6,602.3 1937.1,603.2 1937.6,600.9 1938.1,602.6 1938.6,602.5 1939.1,602 1939.6,601.4 1940.1,600.6 1940.6,600.6 1941.1,601.9 1941.6,602.5 1942.1,602.5 1942.6,602.3 1943.1,602.5 1943.6,603.4 1944.1,603.2 1944.6,601.8 1945.1,602.5 1945.6,600.7 1946.1,602.4 1946.6,601.8 1947.1,601.1 1947.6,602.3 1948.1,602.7 1948.6,602.6 1949.1,602.9 1949.6,600.9 1950.1,602.7 1950.6,601.9 1951.1,601.4 1951.6,602.2 1952.1,602.4 1952.6,601.3 1953.1,603.1 1953.6,602.5 1954.1,602.6 1954.6,601.2 1955.1,601.6 1955.6,601.6 1956.1,603 1956.6,601.9 1957.1,602.6 1957.6,603.2 1958.1,603.1 1958.6,602.6 1959.1,600.6 1959.6,601.8 1960.1,602 1960.6,602.4 1961.1,602.2 1961.6,603.4 1962.1,602.2 1962.6,601.9 1963.1,601.8 1963.6,601.4 2004.1,601.4 2004.6,601.3 2005.1,601.2 2005.6,601 2006.1,600.8 2006.6,600.4 2007.1,599.9 2007.6,599.5 2008.1,599.4 2008.6,599.8 2009.1,600.3 2009.6,600.7 2010.1,601 2010.6,601.2 2011.1,601.3 2011.6,601.3 2012.1,601.4 2065.1,601.4" fill="none" stroke="#000000" stroke-width="3.0" stroke-linejoin="round"/>
<line x1="1242.0" y1="692.9" x2="1242.0" y2="733.0" stroke="#000" stroke-width="3"/>
<line x1="1292.9" y1="701.7" x2="1292.9" y2="733.0" stroke="#000" stroke-width="3"/>
<line x1="1372.8" y1="658.6" x2="1372.8" y2="733.0" stroke="#000" stroke-width="3"/>
<line x1="1581.6" y1="710.0" x2="1581.6" y2="733.0" stroke="#000" stroke-width="3"/>
<line x1="1877.1" y1="712.0" x2="1877.1" y2="733.0" stroke="#000" stroke-width="3"/>
<line x1="1888.8" y1="715.0" x2="1888.8" y2="733.0" stroke="#000" stroke-width="3"/>
<line x1="2010.0" y1="729.0" x2="2010.0" y2="733.0" stroke="#000" stroke-width="3"/>
<text transform="translate(1123.8 784.3)" font-size="38.5" font-weight="bold" text-anchor="middle">30</text>
<text transform="translate(1312.3 784.3)" font-size="38.5" font-weight="bold" text-anchor="middle">40</text>
<text transform="translate(1500.7 784.3)" font-size="38.5" font-weight="bold" text-anchor="middle">50</text>
<text transform="translate(1689.2 784.3)" font-size="38.5" font-weight="bold" text-anchor="middle">60</text>
<text transform="translate(1877.6 784.3)" font-size="38.5" font-weight="bold" text-anchor="middle">70</text>
<text transform="translate(2066.1 784.3)" font-size="38.5" font-weight="bold" text-anchor="middle">80</text>
<text transform="translate(1137.6 74.3) scale(1.13 1)" font-size="35.5" text-anchor="start" stroke="#000" stroke-width="0.5">(b)</text>
<text transform="translate(1924.6 142.5) scale(1.035 1)" font-size="38" text-anchor="start" stroke="#000" stroke-width="0.5">Zn-CO</text>
<text transform="translate(1924.6 249.4) scale(1.035 1)" font-size="38" text-anchor="start" stroke="#000" stroke-width="0.5">Zn-H<tspan font-size="18.5" font-weight="bold" dx="-2.0" dy="14.3">2</tspan></text>
<text transform="translate(1924.6 368.8) scale(1.035 1)" font-size="38" text-anchor="start" stroke="#000" stroke-width="0.5">Zn-CO<tspan font-size="18.5" font-weight="bold" dx="-2.0" dy="14.3">2</tspan></text>
<text transform="translate(1924.6 490.9)" font-size="38" text-anchor="start" stroke="#000" stroke-width="0.5">Zn-N<tspan font-size="18.5" font-weight="bold" dx="-0.5" dy="14.3">2</tspan></text>
<text transform="translate(1924.6 586.5) scale(0.99 1)" font-size="38" text-anchor="start" stroke="#000" stroke-width="0.5">Zn foil</text>
<text transform="translate(1871.0 648.0) scale(1.02 1)" font-size="28.5" font-weight="bold" text-anchor="start">PDF#04-0831</text>
<text transform="translate(1222.8 672.1) scale(1.02 1)" font-size="29" font-weight="bold" text-anchor="start">002</text>
<text transform="translate(1275.7 686.0) scale(1.06 1)" font-size="29" font-weight="bold" text-anchor="start">100</text>
<text transform="translate(1358.3 647.8) scale(1.06 1)" font-size="29" font-weight="bold" text-anchor="start">101</text>
<text transform="translate(1566.5 698.2) scale(1.06 1)" font-size="29" font-weight="bold" text-anchor="start">102</text>
<text transform="translate(1855.8 678.4) scale(1.06 1)" font-size="29" font-weight="bold" text-anchor="start">103</text>
<text transform="translate(1877.4 711.4) scale(1.06 1)" font-size="29" font-weight="bold" text-anchor="start">110</text>
<text transform="translate(1992.1 709.7) scale(1.02 1)" font-size="29" font-weight="bold" text-anchor="start">004</text>
<text transform="translate(1594.5 838.0) scale(1.03 1)" font-size="40" font-weight="bold" text-anchor="middle">2 Theta <tspan font-weight="normal" stroke="#000" stroke-width="0.9">(°)</tspan></text>
<text transform="translate(1091.0 387.2) rotate(-90)" font-size="43" font-weight="bold" text-anchor="middle">Relative intensity (a.u.)</text>
<rect x="77.9" y="938.0" width="947.9" height="706.2" fill="none" stroke="#000" stroke-width="4.7"/>
<line x1="77.9" y1="1644.2" x2="77.9" y2="1658.7" stroke="#000" stroke-width="4.5"/>
<line x1="267.5" y1="1644.2" x2="267.5" y2="1658.7" stroke="#000" stroke-width="4.5"/>
<line x1="457.1" y1="1644.2" x2="457.1" y2="1658.7" stroke="#000" stroke-width="4.5"/>
<line x1="646.6" y1="1644.2" x2="646.6" y2="1658.7" stroke="#000" stroke-width="4.5"/>
<line x1="836.2" y1="1644.2" x2="836.2" y2="1658.7" stroke="#000" stroke-width="4.5"/>
<line x1="1025.8" y1="1644.2" x2="1025.8" y2="1658.7" stroke="#000" stroke-width="4.5"/>
<polyline points="77.4,1397.2 77.9,1398.5 78.4,1398.3 78.9,1397.9 79.4,1397.3 79.9,1398.7 80.4,1398.7 80.9,1398 81.4,1398 81.9,1397.4 82.4,1396.8 82.9,1397.7 83.4,1398.2 83.9,1397 84.4,1398.7 84.9,1397.4 85.4,1397.4 85.9,1396.9 86.4,1399.2 86.9,1398.6 87.4,1398.9 87.9,1398.3 88.4,1396.9 88.9,1397.6 89.4,1398 89.9,1397.1 90.4,1399.1 90.9,1397.7 91.4,1397.2 91.9,1398.8 92.4,1397.1 92.9,1399 93.4,1397.9 93.9,1398.1 94.4,1397.6 94.9,1398 95.4,1397.2 95.9,1396.9 96.4,1398.9 96.9,1397.4 97.4,1398.7 97.9,1397.3 98.4,1399.1 98.9,1398.9 99.4,1398.6 99.9,1398.6 100.4,1398.2 100.9,1398.6 101.4,1397.1 101.9,1397.9 102.4,1398.8 102.9,1397.3 103.4,1399 103.9,1398.9 104.4,1397.8 104.9,1397.7 105.4,1397.9 105.9,1397.7 106.4,1399.2 106.9,1397.7 107.4,1396.9 107.9,1397 108.4,1398.5 108.9,1399.2 109.4,1398 109.9,1398 110.4,1398.1 110.9,1398.6 111.4,1397.3 111.9,1398.3 112.4,1398.1 112.9,1398.3 113.4,1397.2 113.9,1397.2 114.4,1397.6 114.9,1399 115.4,1397.6 115.9,1398.2 116.4,1397.5 116.9,1397 117.4,1397 117.9,1398.8 118.4,1398.7 118.9,1397.7 119.4,1398.4 119.9,1398.4 120.4,1399 120.9,1399.1 121.4,1397.8 121.9,1399.2 122.4,1399.1 122.9,1398.2 123.4,1398.9 123.9,1398 124.4,1397.7 124.9,1397.4 125.4,1398.9 125.9,1397.2 126.4,1397 126.9,1398.7 127.4,1398.7 127.9,1398 128.4,1398.8 128.9,1396.9 129.4,1397.4 129.9,1397.5 130.4,1397.8 130.9,1397.2 131.4,1397 131.9,1397.6 132.4,1399 132.9,1399.2 133.4,1398.6 133.9,1397.9 134.4,1397.4 134.9,1399.1 135.4,1398.1 135.9,1398.5 136.4,1396.9 136.9,1397.3 137.4,1398.8 137.9,1398.7 138.4,1398.9 138.9,1398.2 139.4,1397.8 139.9,1398.2 140.4,1398.8 140.9,1397.5 141.4,1398.1 141.9,1397.5 142.4,1398.6 142.9,1396.8 143.4,1398.4 143.9,1399.1 144.4,1396.9 144.9,1398.2 145.4,1398.3 145.9,1398.8 146.4,1398.2 146.9,1397.4 147.4,1397.8 147.9,1399.1 148.4,1399 148.9,1397.1 149.4,1397 149.9,1397 150.4,1396.9 150.9,1397.9 151.4,1397.1 151.9,1398.9 152.4,1398.4 152.9,1397.1 153.4,1398.1 153.9,1397.6 154.4,1398 154.9,1397.3 155.4,1397.2 155.9,1397.2 156.4,1397.7 156.9,1398.5 157.4,1398.1 157.9,1396.9 158.4,1398.5 158.9,1398.9 159.4,1398.7 159.9,1398.7 160.4,1396.8 160.9,1397.9 161.4,1396.9 161.9,1398.6 162.4,1397.2 162.9,1398.5 163.4,1397.4 163.9,1398.5 164.4,1397.5 164.9,1396.9 165.4,1397.7 165.9,1397.5 166.4,1399 166.9,1397.5 167.4,1398 167.9,1398.1 168.4,1399.1 168.9,1397 169.4,1398.2 169.9,1398 170.4,1398.5 170.9,1399.1 171.4,1397.5 171.9,1398.5 172.4,1398 172.9,1398.1 173.4,1396.9 173.9,1398.7 174.4,1399.1 174.9,1397.6 175.4,1397.5 175.9,1399.1 176.4,1397 176.9,1396.9 177.4,1396.9 177.9,1398.7 178.4,1398.6 178.9,1397.8 179.4,1398.2 179.9,1396.7 180.4,1398.2 180.9,1397.7 181.4,1397.9 181.9,1397.6 182.4,1397.6 182.9,1397.1 183.4,1396.6 183.9,1397.5 184.4,1397 184.9,1398 185.4,1398.2 185.9,1397.9 186.4,1397.1 186.9,1396.4 187.4,1396.5 187.9,1396.3 188.4,1396.1 188.9,1396.1 189.4,1392.8 189.9,1392 190.4,1389.4 190.9,1386 191.4,1380.8 191.9,1372.4 192.4,1360.6 192.9,1345.1 193.4,1323.7 193.9,1297 194.4,1266.2 194.9,1239.5 195.4,1226.5 195.9,1236.9 196.4,1260.7 196.9,1291.7 197.4,1320.1 197.9,1342.7 198.4,1359.3 198.9,1369 199.4,1378.3 199.9,1384.3 200.4,1388.6 200.9,1390.9 201.4,1393.7 201.9,1393.9 202.4,1395.2 202.9,1397.3 203.4,1397.3 203.9,1396.9 204.4,1396.2 204.9,1398.4 205.4,1397.9 205.9,1396.8 206.4,1397.2 206.9,1398 207.4,1398.2 207.9,1397.2 208.4,1398.9 208.9,1397.4 209.4,1397.3 209.9,1398.7 210.4,1397 210.9,1398.3 211.4,1397.2 211.9,1398.2 212.4,1397.4 212.9,1397.6 213.4,1399 213.9,1397.9 214.4,1397.8 214.9,1398.2 215.4,1397.4 215.9,1397.2 216.4,1397.7 216.9,1397.4 217.4,1397.2 217.9,1399.1 218.4,1396.9 218.9,1398.7 219.4,1399 219.9,1398.5 220.4,1396.8 220.9,1398 221.4,1396.9 221.9,1398.2 222.4,1398.5 222.9,1397.4 223.4,1396.8 223.9,1398.1 224.4,1397 224.9,1397.5 225.4,1397.9 225.9,1398.9 226.4,1397.7 226.9,1397.1 227.4,1398.7 227.9,1398.7 228.4,1398 228.9,1396.9 229.4,1397.2 229.9,1397.7 230.4,1398.1 230.9,1397.3 231.4,1398.7 231.9,1398.8 232.4,1399 232.9,1398.8 233.4,1396.8 233.9,1398.1 234.4,1396.9 234.9,1398.8 235.4,1398.5 235.9,1398.5 236.4,1397.1 236.9,1396.7 237.4,1398.5 237.9,1397.9 238.4,1397.9 238.9,1397.5 239.4,1398.1 239.9,1396.9 240.4,1396.5 240.9,1396.4 241.4,1395.8 241.9,1395.9 242.4,1395.5 242.9,1392 243.4,1389.7 243.9,1387.4 244.4,1383.1 244.9,1375.2 245.4,1366.2 245.9,1353.2 246.4,1337.2 246.9,1320.3 247.4,1304.9 247.9,1297.4 248.4,1301.2 248.9,1315.6 249.4,1335.6 249.9,1351.2 250.4,1364.1 250.9,1374.7 251.4,1381.9 251.9,1386.6 252.4,1389.1 252.9,1393.4 253.4,1393.6 253.9,1394.3 254.4,1395.8 254.9,1396.7 255.4,1397.3 255.9,1396.4 256.4,1397.9 256.9,1397.5 257.4,1396.8 257.9,1398.5 258.4,1398.5 258.9,1398.7 259.4,1398.2 259.9,1397.2 260.4,1398.5 260.9,1398.8 261.4,1398 261.9,1398.9 262.4,1399 262.9,1397.7 263.4,1399 263.9,1399 264.4,1398.7 264.9,1396.8 265.4,1397.6 265.9,1398.2 266.4,1398.2 266.9,1398.6 267.4,1398.3 267.9,1397.2 268.4,1399 268.9,1398.1 269.4,1398.9 269.9,1397.3 270.4,1399.2 270.9,1398.1 271.4,1398.6 271.9,1398.6 272.4,1398.9 272.9,1397.7 273.4,1397 273.9,1397.8 274.4,1397.2 274.9,1398.1 275.4,1398.7 275.9,1397.7 276.4,1397.1 276.9,1396.9 277.4,1397.8 277.9,1398.2 278.4,1396.9 278.9,1398.4 279.4,1397.3 279.9,1397.1 280.4,1399 280.9,1398 281.4,1398.9 281.9,1398 282.4,1397.1 282.9,1397.4 283.4,1397.8 283.9,1398.3 284.4,1398.6 284.9,1398.6 285.4,1398.4 285.9,1397.4 286.4,1397.8 286.9,1397.7 287.4,1398 287.9,1397.4 288.4,1398.1 288.9,1397.9 289.4,1396.9 289.9,1398.8 290.4,1398.2 290.9,1398.7 291.4,1398.6 291.9,1398.5 292.4,1399.2 292.9,1397.7 293.4,1397.7 293.9,1396.8 294.4,1398.4 294.9,1398.2 295.4,1398.2 295.9,1399.2 296.4,1397.3 296.9,1397.3 297.4,1398.5 297.9,1398.7 298.4,1397.9 298.9,1396.9 299.4,1397.7 299.9,1398.8 300.4,1398 300.9,1397.9 301.4,1397.7 301.9,1398.3 302.4,1398.2 302.9,1398.4 303.4,1398.8 303.9,1398.6 304.4,1397.6 304.9,1397.3 305.4,1398.6 305.9,1398.6 306.4,1399 306.9,1397.2 307.4,1398.7 307.9,1398.8 308.4,1396.9 308.9,1397.4 309.4,1398.2 309.9,1397 310.4,1398.6 310.9,1397.3 311.4,1398.2 311.9,1397.3 312.4,1397.1 312.9,1397 313.4,1397.7 313.9,1398.1 314.4,1396.9 314.9,1397.9 315.4,1397 315.9,1397.6 316.4,1396.8 316.9,1396.3 317.4,1395.9 317.9,1395.5 318.4,1396.7 318.9,1395.6 319.4,1394.3 319.9,1395.3 320.4,1393.6 320.9,1390.5 321.4,1389.7 321.9,1385.6 322.4,1379.7 322.9,1371.6 323.4,1360.7 323.9,1342 324.4,1318.2 324.9,1284.3 325.4,1237.5 325.9,1177.5 326.4,1108.1 326.9,1040.4 327.4,1000.1 327.9,1007.6 328.4,1057.5 328.9,1129.3 329.4,1195.6 329.9,1253 330.4,1294.9 330.9,1325.2 331.4,1348.2 331.9,1363.8 332.4,1373.4 332.9,1381.7 333.4,1385.9 333.9,1390.7 334.4,1391.7 334.9,1393.2 335.4,1394 335.9,1394.3 336.4,1395.2 336.9,1395.5 337.4,1396.9 337.9,1397.7 338.4,1396.4 338.9,1396.3 339.4,1397.4 339.9,1396.5 340.4,1397.3 340.9,1398.2 341.4,1396.9 341.9,1398.2 342.4,1397.8 342.9,1396.8 343.4,1397.2 343.9,1398 344.4,1396.9 344.9,1397.1 345.4,1398 345.9,1398.6 346.4,1397.9 346.9,1398.3 347.4,1396.7 347.9,1397.4 348.4,1397.5 348.9,1398.9 349.4,1397.6 349.9,1398.6 350.4,1396.8 350.9,1397.9 351.4,1398.9 351.9,1398.6 352.4,1398.2 352.9,1397.2 353.4,1399 353.9,1397 354.4,1399.1 354.9,1398.6 355.4,1398.5 355.9,1398.1 356.4,1397.2 356.9,1397.6 357.4,1398.4 357.9,1398.4 358.4,1397.7 358.9,1398.7 359.4,1396.9 359.9,1397.5 360.4,1397 360.9,1397.6 361.4,1398.7 361.9,1398.6 362.4,1397.1 362.9,1397.5 363.4,1397.1 363.9,1398.4 364.4,1397.9 364.9,1397.3 365.4,1397.7 365.9,1398.9 366.4,1397.8 366.9,1398.5 367.4,1398.3 367.9,1397.9 368.4,1398.1 368.9,1397.7 369.4,1397.3 369.9,1398 370.4,1397.5 370.9,1397.6 371.4,1397.2 371.9,1399 372.4,1397.8 372.9,1397.3 373.4,1396.9 373.9,1397.3 374.4,1398.9 374.9,1397.6 375.4,1398.4 375.9,1397.4 376.4,1398.4 376.9,1397.9 377.4,1398.6 377.9,1398.1 378.4,1397.7 378.9,1397.5 379.4,1398.2 379.9,1398.8 380.4,1398.5 380.9,1398 381.4,1397.6 381.9,1398.9 382.4,1398.8 382.9,1397.1 383.4,1398.4 383.9,1398.7 384.4,1398.4 384.9,1399.1 385.4,1398.9 385.9,1397.4 386.4,1399.2 386.9,1397.6 387.4,1397.7 387.9,1399.1 388.4,1397.2 388.9,1397.7 389.4,1398.3 389.9,1397.5 390.4,1397.4 390.9,1398.7 391.4,1398.3 391.9,1398.6 392.4,1398.7 392.9,1398.9 393.4,1398.9 393.9,1398.8 394.4,1399.1 394.9,1398 395.4,1398.5 395.9,1398 396.4,1399.1 396.9,1398.4 397.4,1397.8 397.9,1398.4 398.4,1397.5 398.9,1397.1 399.4,1397.7 399.9,1397.1 400.4,1396.8 400.9,1397 401.4,1397.9 401.9,1398.6 402.4,1396.9 402.9,1398.3 403.4,1397.1 403.9,1398 404.4,1397.5 404.9,1397.9 405.4,1398.5 405.9,1397.8 406.4,1397.7 406.9,1398.5 407.4,1397.1 407.9,1397.6 408.4,1398.5 408.9,1398.8 409.4,1399.2 409.9,1397.4 410.4,1398.3 410.9,1397.5 411.4,1398.5 411.9,1398.8 412.4,1397.1 412.9,1397.6 413.4,1399 413.9,1397.6 414.4,1398.3 414.9,1398.8 415.4,1397.5 415.9,1398.7 416.4,1396.8 416.9,1397.6 417.4,1397.2 417.9,1397.6 418.4,1397.3 418.9,1396.9 419.4,1398.7 419.9,1397.2 420.4,1398.2 420.9,1398.1 421.4,1398.8 421.9,1398.8 422.4,1398.3 422.9,1397.2 423.4,1398.6 423.9,1397 424.4,1399 424.9,1397.5 425.4,1397.4 425.9,1397.3 426.4,1397.8 426.9,1398.7 427.4,1398.9 427.9,1398.6 428.4,1398.6 428.9,1397.4 429.4,1397.6 429.9,1397.5 430.4,1397.8 430.9,1398.9 431.4,1399.2 431.9,1397 432.4,1399.1 432.9,1399 433.4,1397.9 433.9,1398.5 434.4,1398.7 434.9,1397.2 435.4,1398.3 435.9,1399.2 436.4,1398.9 436.9,1399 437.4,1397 437.9,1398.5 438.4,1398 438.9,1399 439.4,1397.2 439.9,1398.1 440.4,1397.1 440.9,1398.7 441.4,1398.5 441.9,1396.9 442.4,1397.5 442.9,1397.1 443.4,1398.3 443.9,1398.3 444.4,1397 444.9,1399.1 445.4,1399.1 445.9,1397.9 446.4,1398.2 446.9,1397.7 447.4,1398.3 447.9,1397.8 448.4,1397.9 448.9,1398.6 449.4,1397.2 449.9,1397.5 450.4,1398.6 450.9,1397.3 451.4,1397 451.9,1399 452.4,1397.2 452.9,1397.8 453.4,1397.6 453.9,1397.4 454.4,1397.6 454.9,1398.1 455.4,1397.1 455.9,1398.1 456.4,1396.9 456.9,1397 457.4,1397.3 457.9,1397.4 458.4,1397.6 458.9,1397.5 459.4,1398.8 459.9,1398.4 460.4,1397.9 460.9,1398.7 461.4,1398.4 461.9,1397.6 462.4,1398.3 462.9,1398.6 463.4,1398.1 463.9,1398.6 464.4,1398.3 464.9,1399 465.4,1397.4 465.9,1398.4 466.4,1399.1 466.9,1398.1 467.4,1399 467.9,1397 468.4,1398.5 468.9,1397.4 469.4,1398.6 469.9,1397.8 470.4,1398.1 470.9,1397.4 471.4,1397.4 471.9,1398.9 472.4,1398.3 472.9,1398.3 473.4,1397.1 473.9,1397.5 474.4,1399.1 474.9,1397.3 475.4,1398.1 475.9,1398.5 476.4,1398 476.9,1398.1 477.4,1399.1 477.9,1398.7 478.4,1397.4 478.9,1397.8 479.4,1397.8 479.9,1398.4 480.4,1398.4 480.9,1397.4 481.4,1398.5 481.9,1397.8 482.4,1396.8 482.9,1397.5 483.4,1397.7 483.9,1397.3 484.4,1398.4 484.9,1399.2 485.4,1399 485.9,1398.3 486.4,1398.9 486.9,1398 487.4,1398.2 487.9,1398.9 488.4,1396.9 488.9,1397.7 489.4,1397.7 489.9,1397.6 490.4,1397.8 490.9,1396.9 491.4,1398.4 491.9,1399.1 492.4,1397.4 492.9,1397.2 493.4,1397.6 493.9,1398.7 494.4,1397.3 494.9,1398.6 495.4,1397.2 495.9,1398.2 496.4,1398.5 496.9,1398.4 497.4,1397 497.9,1399.1 498.4,1398.8 498.9,1398 499.4,1398.9 499.9,1398.2 500.4,1397.2 500.9,1397.8 501.4,1398.8 501.9,1397.9 502.4,1396.9 502.9,1397.2 503.4,1397.2 503.9,1398.2 504.4,1398.3 504.9,1397.9 505.4,1397.8 505.9,1399.1 506.4,1397.6 506.9,1398.4 507.4,1397.3 507.9,1398 508.4,1397.2 508.9,1397.1 509.4,1397.6 509.9,1397.1 510.4,1397.7 510.9,1398.4 511.4,1398.1 511.9,1398.7 512.4,1397.9 512.9,1397 513.4,1398.5 513.9,1397.8 514.4,1398.6 514.9,1399.1 515.4,1398 515.9,1397.4 516.4,1397.6 516.9,1398 517.4,1397.6 517.9,1397 518.4,1397.7 518.9,1398.4 519.4,1398.7 519.9,1398.6 520.4,1398.9 520.9,1398.7 521.4,1397.8 521.9,1398.3 522.4,1396.9 522.9,1398.7 523.4,1398.4 523.9,1397.4 524.4,1397.9 524.9,1397.4 525.4,1398.6 525.9,1397.7 526.4,1398.6 526.9,1398.9 527.4,1398.5 527.9,1397.5 528.4,1397.4 528.9,1398.8 529.4,1398.6 529.9,1396.8 530.4,1397.2 530.9,1398.1 531.4,1397.8 531.9,1396.4 532.4,1396.4 532.9,1397 533.4,1394 533.9,1393.2 534.4,1392.1 534.9,1389.9 535.4,1385.9 535.9,1379 536.4,1371.8 536.9,1361.6 537.4,1346.4 537.9,1330.6 538.4,1317 538.9,1311.8 539.4,1314.3 539.9,1327.8 540.4,1344.2 540.9,1356.8 541.4,1369.2 541.9,1377.5 542.4,1384.8 542.9,1388.1 543.4,1391.1 543.9,1394.3 544.4,1395.4 544.9,1394.9 545.4,1397.1 545.9,1396.6 546.4,1398.2 546.9,1398.4 547.4,1397.4 547.9,1397.4 548.4,1397 548.9,1397.2 549.4,1397.1 549.9,1397 550.4,1398.4 550.9,1396.8 551.4,1398.1 551.9,1398.1 552.4,1398.5 552.9,1398.1 553.4,1399 553.9,1397.4 554.4,1397 554.9,1398.2 555.4,1397.4 555.9,1399.1 556.4,1399 556.9,1398.4 557.4,1398.8 557.9,1397.4 558.4,1397.9 558.9,1397.7 559.4,1397.6 559.9,1397.7 560.4,1397.9 560.9,1398.4 561.4,1396.8 561.9,1398.1 562.4,1397.1 562.9,1399.1 563.4,1398.1 563.9,1398.2 564.4,1397.5 564.9,1398.5 565.4,1398.5 565.9,1399 566.4,1398.2 566.9,1397.4 567.4,1398.3 567.9,1396.9 568.4,1398.6 568.9,1397.5 569.4,1398.5 569.9,1397.1 570.4,1398.2 570.9,1397.2 571.4,1396.9 571.9,1397.4 572.4,1398.8 572.9,1397.7 573.4,1398.1 573.9,1398.7 574.4,1399.1 574.9,1397.4 575.4,1398.5 575.9,1398.7 576.4,1398.7 576.9,1397.6 577.4,1397.9 577.9,1398.7 578.4,1397.4 578.9,1398 579.4,1398.3 579.9,1398.8 580.4,1397.4 580.9,1398.4 581.4,1397.3 581.9,1397.2 582.4,1397.9 582.9,1398.4 583.4,1398.3 583.9,1399.1 584.4,1397.2 584.9,1398.1 585.4,1398 585.9,1397.4 586.4,1399 586.9,1397.1 587.4,1397.4 587.9,1396.9 588.4,1398.3 588.9,1398.4 589.4,1397.3 589.9,1399 590.4,1398.3 590.9,1397.3 591.4,1399.1 591.9,1398.8 592.4,1397.6 592.9,1398.9 593.4,1397.1 593.9,1397.6 594.4,1397.8 594.9,1399.1 595.4,1397.5 595.9,1397.7 596.4,1397.3 596.9,1398.8 597.4,1397.2 597.9,1398.8 598.4,1397.6 598.9,1398.1 599.4,1398.9 599.9,1397.4 600.4,1398.1 600.9,1398.3 601.4,1398.2 601.9,1397.8 602.4,1398.4 602.9,1397.6 603.4,1397.2 603.9,1396.8 604.4,1398.3 604.9,1398.2 605.4,1398.7 605.9,1397.2 606.4,1398.4 606.9,1397.9 607.4,1398.1 607.9,1398.8 608.4,1398 608.9,1397.8 609.4,1398.3 609.9,1397.2 610.4,1398.9 610.9,1398 611.4,1396.9 611.9,1398 612.4,1399.1 612.9,1399.1 613.4,1397.8 613.9,1397.4 614.4,1399 614.9,1397.5 615.4,1396.8 615.9,1397.4 616.4,1397.9 616.9,1398.4 617.4,1397 617.9,1397.6 618.4,1398.5 618.9,1397.6 619.4,1397.2 619.9,1398.5 620.4,1397.8 620.9,1398.5 621.4,1398 621.9,1398.7 622.4,1398 622.9,1399.1 623.4,1398.8 623.9,1398.5 624.4,1398 624.9,1398.3 625.4,1397.7 625.9,1397 626.4,1398.9 626.9,1398.7 627.4,1398.6 627.9,1398.9 628.4,1398.1 628.9,1399.2 629.4,1397.9 629.9,1399.2 630.4,1397 630.9,1397.7 631.4,1398.2 631.9,1398.8 632.4,1398 632.9,1398.7 633.4,1397.7 633.9,1398.4 634.4,1398.7 634.9,1398.2 635.4,1396.8 635.9,1398.4 636.4,1396.8 636.9,1397.5 637.4,1397.1 637.9,1398.6 638.4,1397.2 638.9,1398.5 639.4,1397 639.9,1397.3 640.4,1398.5 640.9,1399 641.4,1397 641.9,1398.3 642.4,1397.8 642.9,1398.3 643.4,1397 643.9,1396.8 644.4,1397 644.9,1398.9 645.4,1398 645.9,1398.3 646.4,1397.1 646.9,1398.4 647.4,1399 647.9,1397.3 648.4,1398.7 648.9,1398.8 649.4,1399.2 649.9,1398.2 650.4,1398.3 650.9,1397.6 651.4,1398.7 651.9,1397.5 652.4,1398.3 652.9,1398.3 653.4,1399.2 653.9,1398.7 654.4,1397 654.9,1397.2 655.4,1397.7 655.9,1397.8 656.4,1398.5 656.9,1397.4 657.4,1398.1 657.9,1397.9 658.4,1397.5 658.9,1398.3 659.4,1397.8 659.9,1399.2 660.4,1397.1 660.9,1399 661.4,1398.3 661.9,1397.9 662.4,1397 662.9,1398.4 663.4,1398.7 663.9,1397.6 664.4,1398.5 664.9,1398.1 665.4,1397 665.9,1398.9 666.4,1397.5 666.9,1398 667.4,1398.6 667.9,1398.9 668.4,1398.8 668.9,1397.7 669.4,1398.8 669.9,1397.2 670.4,1398.1 670.9,1397.8 671.4,1398.9 671.9,1398.5 672.4,1398.4 672.9,1398.7 673.4,1397.6 673.9,1397.9 674.4,1397 674.9,1397.6 675.4,1397.3 675.9,1398.6 676.4,1397.1 676.9,1399 677.4,1398.2 677.9,1397.9 678.4,1397.1 678.9,1397.9 679.4,1398.2 679.9,1397.1 680.4,1399.1 680.9,1397.7 681.4,1397.8 681.9,1397.5 682.4,1397.7 682.9,1397.5 683.4,1398.8 683.9,1397 684.4,1397.7 684.9,1398.2 685.4,1398 685.9,1397.6 686.4,1398 686.9,1397 687.4,1397.5 687.9,1397.8 688.4,1398.6 688.9,1397.8 689.4,1397.8 689.9,1398.4 690.4,1397.5 690.9,1398.1 691.4,1397.3 691.9,1398.3 692.4,1398.1 692.9,1398.4 693.4,1398.9 693.9,1398.7 694.4,1399.2 694.9,1397.4 695.4,1399.1 695.9,1397.9 696.4,1397.7 696.9,1397.9 697.4,1399 697.9,1399.1 698.4,1398.7 698.9,1397.5 699.4,1397.1 699.9,1397.3 700.4,1398.4 700.9,1398.5 701.4,1397 701.9,1396.8 702.4,1399.2 702.9,1397.6 703.4,1396.9 703.9,1397.9 704.4,1397 704.9,1398.8 705.4,1398.1 705.9,1398.3 706.4,1399 706.9,1397.1 707.4,1397.3 707.9,1398.7 708.4,1398.3 708.9,1397.9 709.4,1397.7 709.9,1398.3 710.4,1399.1 710.9,1399.1 711.4,1399 711.9,1399.1 712.4,1397.1 712.9,1396.9 713.4,1398.8 713.9,1397.4 714.4,1398.1 714.9,1397.9 715.4,1399.1 715.9,1397.9 716.4,1397.1 716.9,1397.3 717.4,1399 717.9,1398.8 718.4,1397.1 718.9,1399.1 719.4,1397.7 719.9,1398.5 720.4,1398.2 720.9,1398.9 721.4,1398 721.9,1396.9 722.4,1398.1 722.9,1398.8 723.4,1397.8 723.9,1398.8 724.4,1397.9 724.9,1397.7 725.4,1397.7 725.9,1397.3 726.4,1398 726.9,1399.1 727.4,1398.2 727.9,1398.6 728.4,1397.2 728.9,1397.7 729.4,1398.2 729.9,1397.7 730.4,1396.8 730.9,1398.9 731.4,1397.1 731.9,1398.4 732.4,1399.2 732.9,1397.5 733.4,1397.4 733.9,1397.6 734.4,1398.1 734.9,1399.2 735.4,1397.1 735.9,1397.4 736.4,1399 736.9,1397.5 737.4,1398.4 737.9,1398.5 738.4,1396.8 738.9,1396.9 739.4,1398.6 739.9,1399 740.4,1398.5 740.9,1397.9 741.4,1397 741.9,1398.1 742.4,1397.1 742.9,1397.6 743.4,1396.9 743.9,1398 744.4,1397.9 744.9,1397.5 745.4,1397.3 745.9,1397 746.4,1396.9 746.9,1397.1 747.4,1399.2 747.9,1396.9 748.4,1398.5 748.9,1397.9 749.4,1398.2 749.9,1397.5 750.4,1399.2 750.9,1398.7 751.4,1397.8 751.9,1397.8 752.4,1399 752.9,1397.2 753.4,1398.9 753.9,1398.3 754.4,1398.2 754.9,1398.1 755.4,1398.2 755.9,1397 756.4,1397.4 756.9,1397.6 757.4,1397.3 757.9,1397 758.4,1398.5 758.9,1397.8 759.4,1398.6 759.9,1397.7 760.4,1399.1 760.9,1397.4 761.4,1398 761.9,1397.8 762.4,1398.7 762.9,1397.1 763.4,1398.1 763.9,1397.9 764.4,1398.3 764.9,1397.4 765.4,1398.1 765.9,1399.2 766.4,1397 766.9,1399.1 767.4,1399.1 767.9,1397.9 768.4,1397 768.9,1398 769.4,1399.1 769.9,1396.8 770.4,1398.6 770.9,1398.7 771.4,1397.1 771.9,1398.2 772.4,1397.2 772.9,1397 773.4,1398.1 773.9,1397.5 774.4,1398.4 774.9,1398.1 775.4,1397.4 775.9,1399 776.4,1396.8 776.9,1398.7 777.4,1397.5 777.9,1399 778.4,1398.3 778.9,1397.9 779.4,1397.3 779.9,1398.9 780.4,1398.9 780.9,1399.1 781.4,1398.2 781.9,1399 782.4,1398.9 782.9,1398.4 783.4,1397.6 783.9,1398.2 784.4,1397.6 784.9,1398.8 785.4,1398.1 785.9,1398.9 786.4,1398.9 786.9,1398.6 787.4,1397.3 787.9,1397.6 788.4,1397 788.9,1397.6 789.4,1397.2 789.9,1397.5 790.4,1398.7 790.9,1397.1 791.4,1399 791.9,1399 792.4,1398.7 792.9,1397.4 793.4,1397.5 793.9,1397.9 794.4,1398.3 794.9,1399 795.4,1396.8 795.9,1397 796.4,1398.8 796.9,1396.9 797.4,1398.9 797.9,1397.2 798.4,1399.1 798.9,1397.9 799.4,1398.3 799.9,1398.8 800.4,1398.8 800.9,1397.8 801.4,1397.9 801.9,1398.7 802.4,1397.4 802.9,1397.5 803.4,1398.9 803.9,1398.9 804.4,1398.8 804.9,1397.6 805.4,1397.6 805.9,1397 806.4,1398.8 806.9,1396.9 807.4,1397.2 807.9,1396.9 808.4,1397.9 808.9,1399.2 809.4,1397 809.9,1397.4 810.4,1397.4 810.9,1398.5 811.4,1397.6 811.9,1397.2 812.4,1398.5 812.9,1398.9 813.4,1397.2 813.9,1396.9 814.4,1397.8 814.9,1399 815.4,1396.9 815.9,1397.1 816.4,1398.3 816.9,1398.6 817.4,1397.9 817.9,1396.9 818.4,1398.1 818.9,1397 819.4,1396.9 819.9,1396.9 820.4,1399 820.9,1397 821.4,1397.9 821.9,1398.7 822.4,1397.2 822.9,1397.6 823.4,1398.6 823.9,1398 824.4,1397.1 824.9,1397.9 825.4,1399 825.9,1398.5 826.4,1398.8 826.9,1396.5 827.4,1396.5 827.9,1397.5 828.4,1396.1 828.9,1398.2 829.4,1396.3 829.9,1396.5 830.4,1396.6 830.9,1394.5 831.4,1393.8 831.9,1390.1 832.4,1387.6 832.9,1383.8 833.4,1376.9 833.9,1367.6 834.4,1357.9 834.9,1342.8 835.4,1329.7 835.9,1317.8 836.4,1317.1 836.9,1322.6 837.4,1336.2 837.9,1348.9 838.4,1356.9 838.9,1360.7 839.4,1362.4 839.9,1360.7 840.4,1360.9 840.9,1364.9 841.4,1372.8 841.9,1381.6 842.4,1385.9 842.9,1389.3 843.4,1392.5 843.9,1394.5 844.4,1392.9 844.9,1393.3 845.4,1391.8 845.9,1388.6 846.4,1381.9 846.9,1375.8 847.4,1370.6 847.9,1365.3 848.4,1363 848.9,1367.7 849.4,1375.4 849.9,1379.3 850.4,1382.6 850.9,1383.7 851.4,1383.9 851.9,1382 852.4,1383 852.9,1383.7 853.4,1389.1 853.9,1392 854.4,1393.3 854.9,1395.5 855.4,1396.6 855.9,1396 856.4,1398.3 856.9,1397.4 857.4,1397.7 857.9,1398.6 858.4,1396.7 858.9,1397.3 859.4,1396.8 859.9,1398.5 860.4,1397.2 860.9,1398.5 861.4,1398.5 861.9,1399.1 862.4,1397.2 862.9,1397.8 863.4,1398.7 863.9,1397.8 864.4,1397.2 864.9,1398.4 865.4,1398.7 865.9,1397.9 866.4,1397.7 866.9,1397.1 867.4,1397.8 867.9,1398.8 868.4,1397.6 868.9,1399.1 869.4,1397.7 869.9,1397.9 870.4,1398.7 870.9,1399 871.4,1398.8 871.9,1397.8 872.4,1397.9 872.9,1397.1 873.4,1398.1 873.9,1398.8 874.4,1397.3 874.9,1397.6 875.4,1397 875.9,1397.9 876.4,1398 876.9,1399.2 877.4,1398.4 877.9,1399 878.4,1397.3 878.9,1397.8 879.4,1398.5 879.9,1397 880.4,1398.2 880.9,1398.3 881.4,1396.9 881.9,1397.3 882.4,1398.7 882.9,1397.2 883.4,1398.3 883.9,1397.8 884.4,1397.7 884.9,1398.9 885.4,1397.8 885.9,1398.9 886.4,1398.8 886.9,1398.1 887.4,1397 887.9,1397.6 888.4,1399.1 888.9,1397.4 889.4,1398.2 889.9,1397.3 890.4,1398.6 890.9,1398.5 891.4,1398.9 891.9,1398.2 892.4,1397.1 892.9,1398.7 893.4,1398.2 893.9,1399.1 894.4,1398 894.9,1397.6 895.4,1397.9 895.9,1398.1 896.4,1398.5 896.9,1398.3 897.4,1398.9 897.9,1398.1 898.4,1397.3 898.9,1398.9 899.4,1398.5 899.9,1397.2 900.4,1397.9 900.9,1398.8 901.4,1398.2 901.9,1397.1 902.4,1398.9 902.9,1398.6 903.4,1397.3 903.9,1398.5 904.4,1398.9 904.9,1398.2 905.4,1399.1 905.9,1398.1 906.4,1396.8 906.9,1398.4 907.4,1398.8 907.9,1399 908.4,1398.6 908.9,1399.1 909.4,1398.7 909.9,1397.9 910.4,1396.9 910.9,1397.2 911.4,1396.9 911.9,1399 912.4,1398.7 912.9,1399 913.4,1398.7 913.9,1397.9 914.4,1398.2 914.9,1396.9 915.4,1397.2 915.9,1397.8 916.4,1396.9 916.9,1397.6 917.4,1398 917.9,1397.2 918.4,1397.2 918.9,1397 919.4,1397.9 919.9,1398.8 920.4,1397.9 920.9,1398.5 921.4,1398.5 921.9,1398.7 922.4,1398.7 922.9,1398 923.4,1396.9 923.9,1397.2 924.4,1397.5 924.9,1397.6 925.4,1398.2 925.9,1398 926.4,1397.5 926.9,1397.2 927.4,1398.6 927.9,1399.2 928.4,1398.5 928.9,1397.1 929.4,1398.5 929.9,1398.7 930.4,1398.1 930.9,1398.3 931.4,1398.9 931.9,1397.9 932.4,1398.5 932.9,1397.2 933.4,1398.8 933.9,1398.2 934.4,1397.3 934.9,1398.3 935.4,1398.8 935.9,1397.9 936.4,1397.5 936.9,1398.5 937.4,1399.2 937.9,1399.1 938.4,1397.5 938.9,1398 939.4,1397.7 939.9,1397.1 940.4,1398.1 940.9,1397.5 941.4,1397.9 941.9,1398.8 942.4,1398.1 942.9,1399.2 943.4,1397.3 943.9,1397.2 944.4,1396.9 944.9,1398.5 945.4,1397.5 945.9,1397.3 946.4,1398.3 946.9,1399.2 947.4,1398.6 947.9,1399.1 948.4,1399 948.9,1398.1 949.4,1397.3 949.9,1398.6 950.4,1397.3 950.9,1396.9 951.4,1397.7 951.9,1398.6 952.4,1398.3 952.9,1397.8 953.4,1397.1 953.9,1397.2 954.4,1398.2 954.9,1397.9 955.4,1398 955.9,1398.5 956.4,1398.1 956.9,1398.8 957.4,1398.9 957.9,1397.9 958.4,1397.5 958.9,1397.8 959.4,1397.2 959.9,1396.9 960.4,1398.2 960.9,1397.4 961.4,1396.3 961.9,1397 962.4,1396.7 962.9,1395.8 963.4,1395.4 963.9,1396.4 964.4,1396.4 964.9,1395.8 965.4,1394.5 965.9,1392.8 966.4,1392.7 966.9,1390.7 967.4,1389.4 967.9,1388.6 968.4,1387.4 968.9,1387.1 969.4,1389.4 969.9,1388 970.4,1391.1 970.9,1391.6 971.4,1392.9 971.9,1392.4 972.4,1394.6 972.9,1394.2 973.4,1395.6 973.9,1396 974.4,1397.4 974.9,1395.8 975.4,1395.9 975.9,1397.5 976.4,1397.5 976.9,1397.9 977.4,1396.7 977.9,1397.4 978.4,1398.3 978.9,1398 979.4,1397.4 979.9,1396.7 980.4,1396.8 980.9,1398.9 981.4,1397.4 981.9,1396.9 982.4,1397.4 982.9,1397.3 983.4,1398.1 983.9,1396.9 984.4,1398.1 984.9,1398.3 985.4,1398.1 985.9,1398.2 986.4,1397.4 986.9,1397.7 987.4,1398.6 987.9,1397.5 988.4,1398.8 988.9,1397.2 989.4,1397.9 989.9,1398.9 990.4,1398.4 990.9,1397.5 991.4,1397.7 991.9,1397.5 992.4,1398.6 992.9,1397.7 993.4,1398.8 993.9,1398.5 994.4,1398.8 994.9,1398.1 995.4,1397.5 995.9,1398.4 996.4,1397.8 996.9,1396.9 997.4,1397.9 997.9,1397.2 998.4,1397 998.9,1397.4 999.4,1399.1 999.9,1398.4 1000.4,1397.8 1000.9,1398.2 1001.4,1397.7 1001.9,1398.2 1002.4,1397.4 1002.9,1398.9 1003.4,1398.7 1003.9,1397.9 1004.4,1398.1 1004.9,1397.7 1005.4,1398.6 1005.9,1398.8 1006.4,1399 1006.9,1397.1 1007.4,1399 1007.9,1397.3 1008.4,1397.1 1008.9,1397.8 1009.4,1398.4 1009.9,1397.1 1010.4,1398.3 1010.9,1399.1 1011.4,1398.7 1011.9,1398.8 1012.4,1397.2 1012.9,1397.6 1013.4,1397.4 1013.9,1397.7 1014.4,1398.9 1014.9,1399.2 1015.4,1397.4 1015.9,1398.1 1016.4,1398.3 1016.9,1399.1 1017.4,1397.9 1017.9,1397.1 1018.4,1397 1018.9,1397.1 1019.4,1397.9 1019.9,1397 1020.4,1398.5 1020.9,1397.3 1021.4,1396.9 1021.9,1398.5 1022.4,1397.9 1022.9,1398.6 1023.4,1398.2 1023.9,1397.7" fill="none" stroke="#000000" stroke-width="3.2" stroke-linejoin="round"/>
<line x1="197.3" y1="1587.3" x2="197.3" y2="1644.2" stroke="#000" stroke-width="4"/>
<line x1="248.1" y1="1600.5" x2="248.1" y2="1644.2" stroke="#000" stroke-width="4"/>
<line x1="328.1" y1="1541.6" x2="328.1" y2="1644.2" stroke="#000" stroke-width="4"/>
<line x1="539.5" y1="1613.2" x2="539.5" y2="1644.2" stroke="#000" stroke-width="4"/>
<line x1="836.2" y1="1616.5" x2="836.2" y2="1644.2" stroke="#000" stroke-width="4"/>
<line x1="849.1" y1="1619.6" x2="849.1" y2="1644.2" stroke="#000" stroke-width="4"/>
<line x1="969.9" y1="1638.6" x2="969.9" y2="1644.2" stroke="#000" stroke-width="4"/>
<text transform="translate(77.1 1696.0)" font-size="38.5" font-weight="bold" text-anchor="middle">30</text>
<text transform="translate(266.7 1696.0)" font-size="38.5" font-weight="bold" text-anchor="middle">40</text>
<text transform="translate(456.3 1696.0)" font-size="38.5" font-weight="bold" text-anchor="middle">50</text>
<text transform="translate(645.8 1696.0)" font-size="38.5" font-weight="bold" text-anchor="middle">60</text>
<text transform="translate(835.4 1696.0)" font-size="38.5" font-weight="bold" text-anchor="middle">70</text>
<text transform="translate(1025.0 1696.0)" font-size="38.5" font-weight="bold" text-anchor="middle">80</text>
<text transform="translate(93.3 988.4)" font-size="37" font-weight="bold" text-anchor="start">(c)</text>
<text transform="translate(707.2 1262.0) scale(1.02 1)" font-size="38" text-anchor="start" stroke="#000" stroke-width="0.7">Zn-CO<tspan font-size="18.5" font-weight="bold" dx="-2.5" dy="14.3">2</tspan><tspan dy="-14.3"> reduced</tspan></text>
<text transform="translate(760.0 1471.0)" font-size="38" text-anchor="start" textLength="200.5" lengthAdjust="spacingAndGlyphs" stroke="#000" stroke-width="0.5">PDF#04-0831</text>
<text transform="translate(171.9 1558.9) scale(1.02 1)" font-size="29" font-weight="bold" text-anchor="start">002</text>
<text transform="translate(233.7 1581.8) scale(1.06 1)" font-size="29" font-weight="bold" text-anchor="start">100</text>
<text transform="translate(315.0 1506.1) scale(1.06 1)" font-size="29" font-weight="bold" text-anchor="start">101</text>
<text transform="translate(526.8 1590.6) scale(1.06 1)" font-size="29" font-weight="bold" text-anchor="start">102</text>
<text transform="translate(805.5 1594.3) scale(1.06 1)" font-size="29" font-weight="bold" text-anchor="start">103</text>
<text transform="translate(845.5 1614.3) scale(1.06 1)" font-size="29" font-weight="bold" text-anchor="start">110</text>
<text transform="translate(950.1 1613.5) scale(1.02 1)" font-size="29" font-weight="bold" text-anchor="start">004</text>
<text transform="translate(545.5 1767.0) scale(1.03 1)" font-size="40" font-weight="bold" text-anchor="middle">2 Theta <tspan font-weight="normal" stroke="#000" stroke-width="0.9">(°)</tspan></text>
<text transform="translate(54.0 1288.0) rotate(-90)" font-size="43" font-weight="bold" text-anchor="middle">Intensity (a.u.)</text>
<rect x="1273.5" y="1200.2" width="13.6" height="13.6" fill="#000000"/>
<rect x="1389.5" y="1396.9" width="13.6" height="13.6" fill="#000000"/>
<rect x="1503.8" y="1178.7" width="13.6" height="13.6" fill="#000000"/>
<rect x="1619.1" y="1252.4" width="13.6" height="13.6" fill="#000000"/>
<rect x="1734.7" y="1154.6" width="13.6" height="13.6" fill="#000000"/>
<rect x="1849.5" y="1434.2" width="13.6" height="13.6" fill="#000000"/>
<rect x="1964.5" y="1130.0" width="13.6" height="13.6" fill="#000000"/>
<circle cx="1280.3" cy="1288.4" r="7.0" fill="#ff0000"/>
<circle cx="1396.3" cy="1397.0" r="7.0" fill="#ff0000"/>
<circle cx="1510.6" cy="1117.0" r="7.0" fill="#ff0000"/>
<circle cx="1625.9" cy="1269.8" r="7.0" fill="#ff0000"/>
<circle cx="1741.5" cy="1219.8" r="7.0" fill="#ff0000"/>
<circle cx="1856.3" cy="1414.6" r="7.0" fill="#ff0000"/>
<circle cx="1971.3" cy="1090.3" r="7.0" fill="#ff0000"/>
<polygon points="1280.3,1353.8 1290.3,1371.3 1270.3,1371.3" fill="#0000ff"/>
<polygon points="1396.3,1350.5 1406.3,1368.0 1386.3,1368.0" fill="#0000ff"/>
<polygon points="1510.6,1059.5 1520.6,1077.0 1500.6,1077.0" fill="#0000ff"/>
<polygon points="1625.9,1193.5 1635.9,1211.0 1615.9,1211.0" fill="#0000ff"/>
<polygon points="1741.5,1099.0 1751.5,1116.5 1731.5,1116.5" fill="#0000ff"/>
<polygon points="1856.3,1365.1 1866.3,1382.6 1846.3,1382.6" fill="#0000ff"/>
<polygon points="1971.3,1296.7 1981.3,1314.2 1961.3,1314.2" fill="#0000ff"/>
<polygon points="1280.3,1356.0 1290.3,1338.5 1270.3,1338.5" fill="#008080"/>
<polygon points="1396.3,1356.5 1406.3,1339.0 1386.3,1339.0" fill="#008080"/>
<polygon points="1510.6,1088.9 1520.6,1071.4 1500.6,1071.4" fill="#008080"/>
<polygon points="1625.9,1258.3 1635.9,1240.8 1615.9,1240.8" fill="#008080"/>
<polygon points="1741.5,1211.3 1751.5,1193.8 1731.5,1193.8" fill="#008080"/>
<polygon points="1856.3,1379.0 1866.3,1361.5 1846.3,1361.5" fill="#008080"/>
<polygon points="1971.3,1236.7 1981.3,1219.2 1961.3,1219.2" fill="#008080"/>
<polygon points="1269.8,1326.5 1287.3,1316.5 1287.3,1336.5" fill="#ff00ff"/>
<polygon points="1385.8,1393.5 1403.3,1383.5 1403.3,1403.5" fill="#ff00ff"/>
<polygon points="1500.1,1162.7 1517.6,1152.7 1517.6,1172.7" fill="#ff00ff"/>
<polygon points="1615.4,1239.4 1632.9,1229.4 1632.9,1249.4" fill="#ff00ff"/>
<polygon points="1731.0,1144.4 1748.5,1134.4 1748.5,1154.4" fill="#ff00ff"/>
<polygon points="1845.8,1372.5 1863.3,1362.5 1863.3,1382.5" fill="#ff00ff"/>
<polygon points="1960.8,1162.7 1978.3,1152.7 1978.3,1172.7" fill="#ff00ff"/>
<rect x="1165.9" y="978.6" width="920.4" height="687.1" fill="none" stroke="#000" stroke-width="5.1"/>
<line x1="1150.4" y1="1665.7" x2="1165.9" y2="1665.7" stroke="#000" stroke-width="5"/>
<text transform="translate(1143.3 1675.6)" font-size="37.5" font-weight="bold" text-anchor="end">0</text>
<line x1="1157.2" y1="1608.4" x2="1165.9" y2="1608.4" stroke="#000" stroke-width="5"/>
<line x1="1150.4" y1="1551.2" x2="1165.9" y2="1551.2" stroke="#000" stroke-width="5"/>
<text transform="translate(1143.3 1561.1)" font-size="37.5" font-weight="bold" text-anchor="end">4</text>
<line x1="1157.2" y1="1493.9" x2="1165.9" y2="1493.9" stroke="#000" stroke-width="5"/>
<line x1="1150.4" y1="1436.7" x2="1165.9" y2="1436.7" stroke="#000" stroke-width="5"/>
<text transform="translate(1143.3 1446.6)" font-size="37.5" font-weight="bold" text-anchor="end">8</text>
<line x1="1157.2" y1="1379.4" x2="1165.9" y2="1379.4" stroke="#000" stroke-width="5"/>
<line x1="1150.4" y1="1322.2" x2="1165.9" y2="1322.2" stroke="#000" stroke-width="5"/>
<text transform="translate(1143.3 1332.1)" font-size="37.5" font-weight="bold" text-anchor="end">12</text>
<line x1="1157.2" y1="1264.9" x2="1165.9" y2="1264.9" stroke="#000" stroke-width="5"/>
<line x1="1150.4" y1="1207.6" x2="1165.9" y2="1207.6" stroke="#000" stroke-width="5"/>
<text transform="translate(1143.3 1217.5)" font-size="37.5" font-weight="bold" text-anchor="end">16</text>
<line x1="1157.2" y1="1150.4" x2="1165.9" y2="1150.4" stroke="#000" stroke-width="5"/>
<line x1="1150.4" y1="1093.1" x2="1165.9" y2="1093.1" stroke="#000" stroke-width="5"/>
<text transform="translate(1143.3 1103.0)" font-size="37.5" font-weight="bold" text-anchor="end">20</text>
<line x1="1157.2" y1="1035.9" x2="1165.9" y2="1035.9" stroke="#000" stroke-width="5"/>
<line x1="1150.4" y1="978.6" x2="1165.9" y2="978.6" stroke="#000" stroke-width="5"/>
<text transform="translate(1143.3 988.5)" font-size="37.5" font-weight="bold" text-anchor="end">24</text>
<line x1="1165.9" y1="1665.7" x2="1165.9" y2="1680.7" stroke="#000" stroke-width="4.8"/>
<line x1="1281.5" y1="1665.7" x2="1281.5" y2="1680.7" stroke="#000" stroke-width="4.8"/>
<line x1="1396.3" y1="1665.7" x2="1396.3" y2="1680.7" stroke="#000" stroke-width="4.8"/>
<line x1="1511.4" y1="1665.7" x2="1511.4" y2="1680.7" stroke="#000" stroke-width="4.8"/>
<line x1="1625.9" y1="1665.7" x2="1625.9" y2="1680.7" stroke="#000" stroke-width="4.8"/>
<line x1="1741.0" y1="1665.7" x2="1741.0" y2="1680.7" stroke="#000" stroke-width="4.8"/>
<line x1="1855.7" y1="1665.7" x2="1855.7" y2="1680.7" stroke="#000" stroke-width="4.8"/>
<line x1="1970.8" y1="1665.7" x2="1970.8" y2="1680.7" stroke="#000" stroke-width="4.8"/>
<line x1="2086.3" y1="1665.7" x2="2086.3" y2="1680.7" stroke="#000" stroke-width="4.8"/>
<text transform="translate(1280.3 1712.3)" font-size="37" text-anchor="middle" textLength="54.3" lengthAdjust="spacingAndGlyphs" stroke="#000" stroke-width="0.8">002</text>
<text transform="translate(1393.7 1712.3)" font-size="37" text-anchor="middle" textLength="54.3" lengthAdjust="spacingAndGlyphs" stroke="#000" stroke-width="0.8">100</text>
<text transform="translate(1514.1 1712.3)" font-size="37" text-anchor="middle" textLength="54.3" lengthAdjust="spacingAndGlyphs" stroke="#000" stroke-width="0.8">101</text>
<text transform="translate(1631.8 1712.3)" font-size="37" text-anchor="middle" textLength="54.3" lengthAdjust="spacingAndGlyphs" stroke="#000" stroke-width="0.8">102</text>
<text transform="translate(1744.9 1712.3)" font-size="37" text-anchor="middle" textLength="54.3" lengthAdjust="spacingAndGlyphs" stroke="#000" stroke-width="0.8">103</text>
<text transform="translate(1864.0 1712.3)" font-size="37" text-anchor="middle" textLength="54.3" lengthAdjust="spacingAndGlyphs" stroke="#000" stroke-width="0.8">110</text>
<text transform="translate(1985.1 1712.3)" font-size="37" text-anchor="middle" textLength="54.3" lengthAdjust="spacingAndGlyphs" stroke="#000" stroke-width="0.8">004</text>
<text transform="translate(1182.6 1021.7) scale(1.13 1)" font-size="35.5" text-anchor="start" stroke="#000" stroke-width="0.5">(d)</text>
<text transform="translate(1613.2 1773.0) scale(1.01 1)" font-size="40" font-weight="bold" text-anchor="middle">Crystal plane</text>
<text transform="translate(1092.0 1327.8) rotate(-90) scale(0.99 1)" font-size="43" font-weight="bold" text-anchor="middle">Texture coefficient <tspan font-weight="normal" stroke="#000" stroke-width="0.9">(</tspan> % <tspan font-weight="normal" stroke="#000" stroke-width="0.9">)</tspan></text>
<rect x="1928.4" y="1379.6" width="13.6" height="13.6" fill="#000000"/>
<text transform="translate(1978.4 1397.3)" font-size="31" font-weight="bold" text-anchor="start">Zn foil</text>
<circle cx="1935.2" cy="1427.3" r="7.0" fill="#ff0000"/>
<text transform="translate(1978.4 1438.5)" font-size="31" font-weight="bold" text-anchor="start">Zn-N<tspan font-size="19" font-weight="bold" dx="-1.5" dy="12">2</tspan></text>
<polygon points="1935.2,1468.1 1945.2,1485.6 1925.2,1485.6" fill="#0000ff"/>
<text transform="translate(1978.4 1490.0)" font-size="31" font-weight="bold" text-anchor="start">Zn-CO<tspan font-size="19" font-weight="bold" dx="-1.5" dy="12">2</tspan></text>
<polygon points="1935.2,1544.5 1945.2,1527.0 1925.2,1527.0" fill="#008080"/>
<text transform="translate(1978.4 1540.8)" font-size="31" font-weight="bold" text-anchor="start">Zn-H<tspan font-size="19" font-weight="bold" dx="-1.5" dy="12">2</tspan></text>
<polygon points="1924.7,1583.5 1942.2,1573.5 1942.2,1593.5" fill="#ff00ff"/>
<text transform="translate(1978.4 1591.6)" font-size="31" font-weight="bold" text-anchor="start">Zn-CO</text>
</svg>
</body>
</html>
